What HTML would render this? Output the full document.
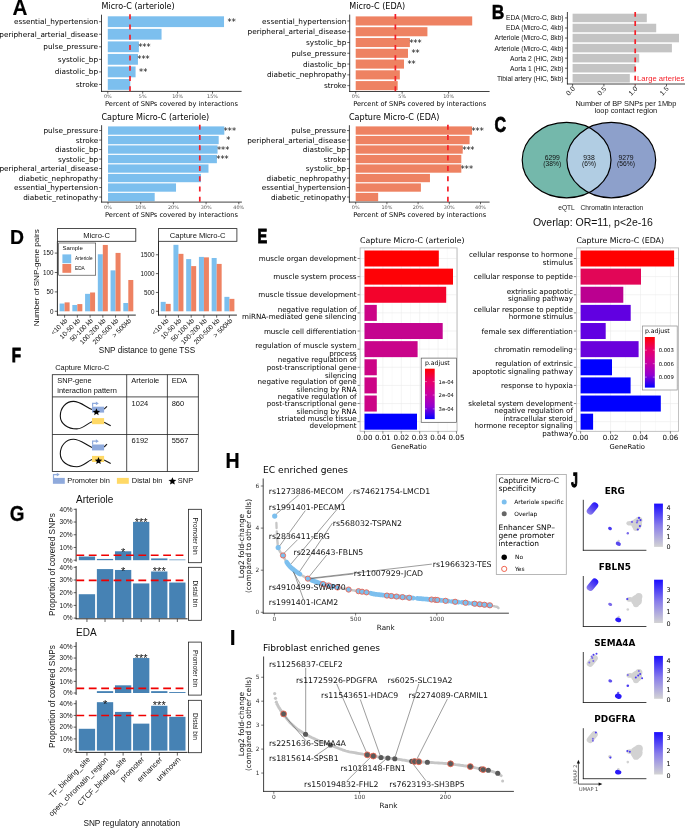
<!DOCTYPE html>
<html><head><meta charset="utf-8"><title>Figure</title>
<style>html,body{margin:0;padding:0;background:#fff}svg{display:block;will-change:transform}</style></head>
<body>
<svg width="685" height="828" viewBox="0 0 685 828">
<rect width="685" height="828" fill="#fff"/>
<text x="101.50" y="9.40" font-size="8.05" font-family="DejaVu Sans, Liberation Sans, sans-serif" text-anchor="start" fill="#000">Micro-C (arteriole)</text>
<rect x="107.80" y="16.30" width="116.22" height="10.80" fill="#7cbfee"/>
<text x="98.10" y="24.25" font-size="7.3" font-family="DejaVu Sans, Liberation Sans, sans-serif" text-anchor="end" fill="#000">essential_hypertension</text>
<line x1="99.10" y1="21.70" x2="101.50" y2="21.70" stroke="#222" stroke-width="0.7"/>
<text x="235.72" y="24.80" font-size="8.2" font-family="DejaVu Sans, Liberation Sans, sans-serif" text-anchor="end" fill="#111">**</text>
<rect x="107.80" y="28.85" width="53.75" height="10.80" fill="#7cbfee"/>
<text x="98.10" y="36.80" font-size="7.3" font-family="DejaVu Sans, Liberation Sans, sans-serif" text-anchor="end" fill="#000">peripheral_arterial_disease</text>
<line x1="99.10" y1="34.25" x2="101.50" y2="34.25" stroke="#222" stroke-width="0.7"/>
<rect x="107.80" y="41.40" width="31.06" height="10.80" fill="#7cbfee"/>
<text x="98.10" y="49.35" font-size="7.3" font-family="DejaVu Sans, Liberation Sans, sans-serif" text-anchor="end" fill="#000">pulse_pressure</text>
<line x1="99.10" y1="46.80" x2="101.50" y2="46.80" stroke="#222" stroke-width="0.7"/>
<text x="150.56" y="49.90" font-size="8.2" font-family="DejaVu Sans, Liberation Sans, sans-serif" text-anchor="end" fill="#111">***</text>
<rect x="107.80" y="53.95" width="30.15" height="10.80" fill="#7cbfee"/>
<text x="98.10" y="61.90" font-size="7.3" font-family="DejaVu Sans, Liberation Sans, sans-serif" text-anchor="end" fill="#000">systolic_bp</text>
<line x1="99.10" y1="59.35" x2="101.50" y2="59.35" stroke="#222" stroke-width="0.7"/>
<text x="149.65" y="62.45" font-size="8.2" font-family="DejaVu Sans, Liberation Sans, sans-serif" text-anchor="end" fill="#111">***</text>
<rect x="107.80" y="66.50" width="27.78" height="10.80" fill="#7cbfee"/>
<text x="98.10" y="74.45" font-size="7.3" font-family="DejaVu Sans, Liberation Sans, sans-serif" text-anchor="end" fill="#000">diastolic_bp</text>
<line x1="99.10" y1="71.90" x2="101.50" y2="71.90" stroke="#222" stroke-width="0.7"/>
<text x="147.28" y="75.00" font-size="8.2" font-family="DejaVu Sans, Liberation Sans, sans-serif" text-anchor="end" fill="#111">**</text>
<rect x="107.80" y="79.05" width="22.48" height="10.80" fill="#7cbfee"/>
<text x="98.10" y="87.00" font-size="7.3" font-family="DejaVu Sans, Liberation Sans, sans-serif" text-anchor="end" fill="#000">stroke</text>
<line x1="99.10" y1="84.45" x2="101.50" y2="84.45" stroke="#222" stroke-width="0.7"/>
<line x1="101.50" y1="14.70" x2="101.50" y2="91.80" stroke="#111" stroke-width="0.8"/>
<line x1="101.10" y1="91.40" x2="241.60" y2="91.40" stroke="#111" stroke-width="0.8"/>
<line x1="107.80" y1="91.40" x2="107.80" y2="93.60" stroke="#222" stroke-width="0.7"/>
<text x="107.80" y="98.40" font-size="4.9" font-family="DejaVu Sans, Liberation Sans, sans-serif" text-anchor="middle" fill="#555">0%</text>
<line x1="142.70" y1="91.40" x2="142.70" y2="93.60" stroke="#222" stroke-width="0.7"/>
<text x="142.70" y="98.40" font-size="4.9" font-family="DejaVu Sans, Liberation Sans, sans-serif" text-anchor="middle" fill="#555">5%</text>
<line x1="177.60" y1="91.40" x2="177.60" y2="93.60" stroke="#222" stroke-width="0.7"/>
<text x="177.60" y="98.40" font-size="4.9" font-family="DejaVu Sans, Liberation Sans, sans-serif" text-anchor="middle" fill="#555">10%</text>
<line x1="212.50" y1="91.40" x2="212.50" y2="93.60" stroke="#222" stroke-width="0.7"/>
<text x="212.50" y="98.40" font-size="4.9" font-family="DejaVu Sans, Liberation Sans, sans-serif" text-anchor="middle" fill="#555">15%</text>
<line x1="130.00" y1="14.20" x2="130.00" y2="91.40" stroke="#f51f28" stroke-width="1.7" stroke-dasharray="5 5.3"/>
<text x="171.50" y="106.00" font-size="6.67" font-family="DejaVu Sans, Liberation Sans, sans-serif" text-anchor="middle" fill="#000">Percent of SNPs covered by interactions</text>
<text x="349.30" y="9.40" font-size="8.05" font-family="DejaVu Sans, Liberation Sans, sans-serif" text-anchor="start" fill="#000">Micro-C (EDA)</text>
<rect x="355.70" y="16.40" width="116.50" height="9.10" fill="#ee8262"/>
<text x="346.30" y="23.50" font-size="7.3" font-family="DejaVu Sans, Liberation Sans, sans-serif" text-anchor="end" fill="#000">essential_hypertension</text>
<line x1="347.30" y1="20.95" x2="349.70" y2="20.95" stroke="#222" stroke-width="0.7"/>
<rect x="355.70" y="27.18" width="71.72" height="9.10" fill="#ee8262"/>
<text x="346.30" y="34.28" font-size="7.3" font-family="DejaVu Sans, Liberation Sans, sans-serif" text-anchor="end" fill="#000">peripheral_arterial_disease</text>
<line x1="347.30" y1="31.73" x2="349.70" y2="31.73" stroke="#222" stroke-width="0.7"/>
<rect x="355.70" y="37.96" width="54.16" height="9.10" fill="#ee8262"/>
<text x="346.30" y="45.06" font-size="7.3" font-family="DejaVu Sans, Liberation Sans, sans-serif" text-anchor="end" fill="#000">systolic_bp</text>
<line x1="347.30" y1="42.51" x2="349.70" y2="42.51" stroke="#222" stroke-width="0.7"/>
<text x="421.56" y="45.61" font-size="8.2" font-family="DejaVu Sans, Liberation Sans, sans-serif" text-anchor="end" fill="#111">***</text>
<rect x="355.70" y="48.74" width="52.30" height="9.10" fill="#ee8262"/>
<text x="346.30" y="55.84" font-size="7.3" font-family="DejaVu Sans, Liberation Sans, sans-serif" text-anchor="end" fill="#000">pulse_pressure</text>
<line x1="347.30" y1="53.29" x2="349.70" y2="53.29" stroke="#222" stroke-width="0.7"/>
<text x="419.70" y="56.39" font-size="8.2" font-family="DejaVu Sans, Liberation Sans, sans-serif" text-anchor="end" fill="#111">**</text>
<rect x="355.70" y="59.52" width="48.31" height="9.10" fill="#ee8262"/>
<text x="346.30" y="66.62" font-size="7.3" font-family="DejaVu Sans, Liberation Sans, sans-serif" text-anchor="end" fill="#000">diastolic_bp</text>
<line x1="347.30" y1="64.07" x2="349.70" y2="64.07" stroke="#222" stroke-width="0.7"/>
<text x="415.71" y="67.17" font-size="8.2" font-family="DejaVu Sans, Liberation Sans, sans-serif" text-anchor="end" fill="#111">**</text>
<rect x="355.70" y="70.30" width="44.13" height="9.10" fill="#ee8262"/>
<text x="346.30" y="77.40" font-size="7.3" font-family="DejaVu Sans, Liberation Sans, sans-serif" text-anchor="end" fill="#000">diabetic_nephropathy</text>
<line x1="347.30" y1="74.85" x2="349.70" y2="74.85" stroke="#222" stroke-width="0.7"/>
<rect x="355.70" y="81.08" width="41.99" height="9.10" fill="#ee8262"/>
<text x="346.30" y="88.18" font-size="7.3" font-family="DejaVu Sans, Liberation Sans, sans-serif" text-anchor="end" fill="#000">stroke</text>
<line x1="347.30" y1="85.63" x2="349.70" y2="85.63" stroke="#222" stroke-width="0.7"/>
<line x1="349.70" y1="14.60" x2="349.70" y2="91.90" stroke="#111" stroke-width="0.8"/>
<line x1="349.30" y1="91.50" x2="489.60" y2="91.50" stroke="#111" stroke-width="0.8"/>
<line x1="355.70" y1="91.50" x2="355.70" y2="93.70" stroke="#222" stroke-width="0.7"/>
<text x="355.70" y="98.40" font-size="4.9" font-family="DejaVu Sans, Liberation Sans, sans-serif" text-anchor="middle" fill="#555">0%</text>
<line x1="402.15" y1="91.50" x2="402.15" y2="93.70" stroke="#222" stroke-width="0.7"/>
<text x="402.15" y="98.40" font-size="4.9" font-family="DejaVu Sans, Liberation Sans, sans-serif" text-anchor="middle" fill="#555">5%</text>
<line x1="448.60" y1="91.50" x2="448.60" y2="93.70" stroke="#222" stroke-width="0.7"/>
<text x="448.60" y="98.40" font-size="4.9" font-family="DejaVu Sans, Liberation Sans, sans-serif" text-anchor="middle" fill="#555">10%</text>
<line x1="395.37" y1="14.10" x2="395.37" y2="91.50" stroke="#f51f28" stroke-width="1.7" stroke-dasharray="5 5.3"/>
<text x="419.70" y="106.00" font-size="6.67" font-family="DejaVu Sans, Liberation Sans, sans-serif" text-anchor="middle" fill="#000">Percent of SNPs covered by interactions</text>
<text x="101.50" y="120.30" font-size="8.05" font-family="DejaVu Sans, Liberation Sans, sans-serif" text-anchor="start" fill="#000">Capture Micro-C (arteriole)</text>
<rect x="108.00" y="126.40" width="116.31" height="8.30" fill="#7cbfee"/>
<text x="98.20" y="133.10" font-size="7.3" font-family="DejaVu Sans, Liberation Sans, sans-serif" text-anchor="end" fill="#000">pulse_pressure</text>
<line x1="99.20" y1="130.55" x2="101.60" y2="130.55" stroke="#222" stroke-width="0.7"/>
<text x="236.01" y="133.65" font-size="8.2" font-family="DejaVu Sans, Liberation Sans, sans-serif" text-anchor="end" fill="#111">***</text>
<rect x="108.00" y="135.90" width="110.69" height="8.30" fill="#7cbfee"/>
<text x="98.20" y="142.60" font-size="7.3" font-family="DejaVu Sans, Liberation Sans, sans-serif" text-anchor="end" fill="#000">stroke</text>
<line x1="99.20" y1="140.05" x2="101.60" y2="140.05" stroke="#222" stroke-width="0.7"/>
<text x="230.39" y="143.15" font-size="8.2" font-family="DejaVu Sans, Liberation Sans, sans-serif" text-anchor="end" fill="#111">*</text>
<rect x="108.00" y="145.40" width="109.55" height="8.30" fill="#7cbfee"/>
<text x="98.20" y="152.10" font-size="7.3" font-family="DejaVu Sans, Liberation Sans, sans-serif" text-anchor="end" fill="#000">diastolic_bp</text>
<line x1="99.20" y1="149.55" x2="101.60" y2="149.55" stroke="#222" stroke-width="0.7"/>
<text x="229.25" y="152.65" font-size="8.2" font-family="DejaVu Sans, Liberation Sans, sans-serif" text-anchor="end" fill="#111">***</text>
<rect x="108.00" y="154.90" width="108.89" height="8.30" fill="#7cbfee"/>
<text x="98.20" y="161.60" font-size="7.3" font-family="DejaVu Sans, Liberation Sans, sans-serif" text-anchor="end" fill="#000">systolic_bp</text>
<line x1="99.20" y1="159.05" x2="101.60" y2="159.05" stroke="#222" stroke-width="0.7"/>
<text x="228.59" y="162.15" font-size="8.2" font-family="DejaVu Sans, Liberation Sans, sans-serif" text-anchor="end" fill="#111">***</text>
<rect x="108.00" y="164.40" width="100.49" height="8.30" fill="#7cbfee"/>
<text x="98.20" y="171.10" font-size="7.3" font-family="DejaVu Sans, Liberation Sans, sans-serif" text-anchor="end" fill="#000">peripheral_arterial_disease</text>
<line x1="99.20" y1="168.55" x2="101.60" y2="168.55" stroke="#222" stroke-width="0.7"/>
<rect x="108.00" y="173.90" width="93.00" height="8.30" fill="#7cbfee"/>
<text x="98.20" y="180.60" font-size="7.3" font-family="DejaVu Sans, Liberation Sans, sans-serif" text-anchor="end" fill="#000">diabetic_nephropathy</text>
<line x1="99.20" y1="178.05" x2="101.60" y2="178.05" stroke="#222" stroke-width="0.7"/>
<rect x="108.00" y="183.40" width="68.02" height="8.30" fill="#7cbfee"/>
<text x="98.20" y="190.10" font-size="7.3" font-family="DejaVu Sans, Liberation Sans, sans-serif" text-anchor="end" fill="#000">essential_hypertension</text>
<line x1="99.20" y1="187.55" x2="101.60" y2="187.55" stroke="#222" stroke-width="0.7"/>
<rect x="108.00" y="192.90" width="46.70" height="8.30" fill="#7cbfee"/>
<text x="98.20" y="199.60" font-size="7.3" font-family="DejaVu Sans, Liberation Sans, sans-serif" text-anchor="end" fill="#000">diabetic_retinopathy</text>
<line x1="99.20" y1="197.05" x2="101.60" y2="197.05" stroke="#222" stroke-width="0.7"/>
<line x1="101.60" y1="125.20" x2="101.60" y2="202.50" stroke="#111" stroke-width="0.8"/>
<line x1="101.20" y1="202.10" x2="241.90" y2="202.10" stroke="#111" stroke-width="0.8"/>
<line x1="108.00" y1="202.10" x2="108.00" y2="204.30" stroke="#222" stroke-width="0.7"/>
<text x="108.00" y="209.30" font-size="4.9" font-family="DejaVu Sans, Liberation Sans, sans-serif" text-anchor="middle" fill="#555">0%</text>
<line x1="140.70" y1="202.10" x2="140.70" y2="204.30" stroke="#222" stroke-width="0.7"/>
<text x="140.70" y="209.30" font-size="4.9" font-family="DejaVu Sans, Liberation Sans, sans-serif" text-anchor="middle" fill="#555">10%</text>
<line x1="173.40" y1="202.10" x2="173.40" y2="204.30" stroke="#222" stroke-width="0.7"/>
<text x="173.40" y="209.30" font-size="4.9" font-family="DejaVu Sans, Liberation Sans, sans-serif" text-anchor="middle" fill="#555">20%</text>
<line x1="206.10" y1="202.10" x2="206.10" y2="204.30" stroke="#222" stroke-width="0.7"/>
<text x="206.10" y="209.30" font-size="4.9" font-family="DejaVu Sans, Liberation Sans, sans-serif" text-anchor="middle" fill="#555">30%</text>
<line x1="238.80" y1="202.10" x2="238.80" y2="204.30" stroke="#222" stroke-width="0.7"/>
<text x="238.80" y="209.30" font-size="4.9" font-family="DejaVu Sans, Liberation Sans, sans-serif" text-anchor="middle" fill="#555">40%</text>
<line x1="199.79" y1="124.70" x2="199.79" y2="202.10" stroke="#f51f28" stroke-width="1.7" stroke-dasharray="5 5.3"/>
<text x="171.50" y="216.90" font-size="6.67" font-family="DejaVu Sans, Liberation Sans, sans-serif" text-anchor="middle" fill="#000">Percent of SNPs covered by interactions</text>
<text x="349.00" y="120.30" font-size="8.05" font-family="DejaVu Sans, Liberation Sans, sans-serif" text-anchor="start" fill="#000">Capture Micro-C (EDA)</text>
<rect x="355.70" y="126.40" width="116.38" height="8.30" fill="#ee8262"/>
<text x="346.00" y="133.10" font-size="7.3" font-family="DejaVu Sans, Liberation Sans, sans-serif" text-anchor="end" fill="#000">pulse_pressure</text>
<line x1="347.00" y1="130.55" x2="349.40" y2="130.55" stroke="#222" stroke-width="0.7"/>
<text x="483.78" y="133.65" font-size="8.2" font-family="DejaVu Sans, Liberation Sans, sans-serif" text-anchor="end" fill="#111">***</text>
<rect x="355.70" y="135.90" width="113.88" height="8.30" fill="#ee8262"/>
<text x="346.00" y="142.60" font-size="7.3" font-family="DejaVu Sans, Liberation Sans, sans-serif" text-anchor="end" fill="#000">peripheral_arterial_disease</text>
<line x1="347.00" y1="140.05" x2="349.40" y2="140.05" stroke="#222" stroke-width="0.7"/>
<rect x="355.70" y="145.40" width="107.02" height="8.30" fill="#ee8262"/>
<text x="346.00" y="152.10" font-size="7.3" font-family="DejaVu Sans, Liberation Sans, sans-serif" text-anchor="end" fill="#000">diastolic_bp</text>
<line x1="347.00" y1="149.55" x2="349.40" y2="149.55" stroke="#222" stroke-width="0.7"/>
<text x="474.42" y="152.65" font-size="8.2" font-family="DejaVu Sans, Liberation Sans, sans-serif" text-anchor="end" fill="#111">***</text>
<rect x="355.70" y="154.90" width="105.61" height="8.30" fill="#ee8262"/>
<text x="346.00" y="161.60" font-size="7.3" font-family="DejaVu Sans, Liberation Sans, sans-serif" text-anchor="end" fill="#000">stroke</text>
<line x1="347.00" y1="159.05" x2="349.40" y2="159.05" stroke="#222" stroke-width="0.7"/>
<rect x="355.70" y="164.40" width="105.61" height="8.30" fill="#ee8262"/>
<text x="346.00" y="171.10" font-size="7.3" font-family="DejaVu Sans, Liberation Sans, sans-serif" text-anchor="end" fill="#000">systolic_bp</text>
<line x1="347.00" y1="168.55" x2="349.40" y2="168.55" stroke="#222" stroke-width="0.7"/>
<text x="473.01" y="171.65" font-size="8.2" font-family="DejaVu Sans, Liberation Sans, sans-serif" text-anchor="end" fill="#111">***</text>
<rect x="355.70" y="173.90" width="74.26" height="8.30" fill="#ee8262"/>
<text x="346.00" y="180.60" font-size="7.3" font-family="DejaVu Sans, Liberation Sans, sans-serif" text-anchor="end" fill="#000">diabetic_nephropathy</text>
<line x1="347.00" y1="178.05" x2="349.40" y2="178.05" stroke="#222" stroke-width="0.7"/>
<rect x="355.70" y="183.40" width="65.21" height="8.30" fill="#ee8262"/>
<text x="346.00" y="190.10" font-size="7.3" font-family="DejaVu Sans, Liberation Sans, sans-serif" text-anchor="end" fill="#000">essential_hypertension</text>
<line x1="347.00" y1="187.55" x2="349.40" y2="187.55" stroke="#222" stroke-width="0.7"/>
<rect x="355.70" y="192.90" width="22.46" height="8.30" fill="#ee8262"/>
<text x="346.00" y="199.60" font-size="7.3" font-family="DejaVu Sans, Liberation Sans, sans-serif" text-anchor="end" fill="#000">diabetic_retinopathy</text>
<line x1="347.00" y1="197.05" x2="349.40" y2="197.05" stroke="#222" stroke-width="0.7"/>
<line x1="349.40" y1="125.20" x2="349.40" y2="202.50" stroke="#111" stroke-width="0.8"/>
<line x1="349.00" y1="202.10" x2="489.60" y2="202.10" stroke="#111" stroke-width="0.8"/>
<line x1="355.70" y1="202.10" x2="355.70" y2="204.30" stroke="#222" stroke-width="0.7"/>
<text x="355.70" y="209.30" font-size="4.9" font-family="DejaVu Sans, Liberation Sans, sans-serif" text-anchor="middle" fill="#555">0%</text>
<line x1="386.90" y1="202.10" x2="386.90" y2="204.30" stroke="#222" stroke-width="0.7"/>
<text x="386.90" y="209.30" font-size="4.9" font-family="DejaVu Sans, Liberation Sans, sans-serif" text-anchor="middle" fill="#555">10%</text>
<line x1="418.10" y1="202.10" x2="418.10" y2="204.30" stroke="#222" stroke-width="0.7"/>
<text x="418.10" y="209.30" font-size="4.9" font-family="DejaVu Sans, Liberation Sans, sans-serif" text-anchor="middle" fill="#555">20%</text>
<line x1="449.30" y1="202.10" x2="449.30" y2="204.30" stroke="#222" stroke-width="0.7"/>
<text x="449.30" y="209.30" font-size="4.9" font-family="DejaVu Sans, Liberation Sans, sans-serif" text-anchor="middle" fill="#555">30%</text>
<line x1="480.50" y1="202.10" x2="480.50" y2="204.30" stroke="#222" stroke-width="0.7"/>
<text x="480.50" y="209.30" font-size="4.9" font-family="DejaVu Sans, Liberation Sans, sans-serif" text-anchor="middle" fill="#555">40%</text>
<line x1="447.90" y1="124.70" x2="447.90" y2="202.10" stroke="#f51f28" stroke-width="1.7" stroke-dasharray="5 5.3"/>
<text x="419.70" y="216.90" font-size="6.67" font-family="DejaVu Sans, Liberation Sans, sans-serif" text-anchor="middle" fill="#000">Percent of SNPs covered by interactions</text>
<text transform="translate(12.61 14.53) scale(1.036 1.081)" x="0" y="0" font-size="20" font-family="Liberation Sans, DejaVu Sans, sans-serif" font-weight="bold" fill="#000" stroke="#000" stroke-width="0.13" stroke-linejoin="miter" vector-effect="non-scaling-stroke">A</text>
<rect x="572.60" y="13.70" width="74.20" height="8.50" fill="#c4c4c4"/>
<text x="563.60" y="20.35" font-size="6.7" font-family="Liberation Sans, DejaVu Sans, sans-serif" text-anchor="end" fill="#111">EDA (Micro-C, 8kb)</text>
<line x1="565.00" y1="17.95" x2="567.40" y2="17.95" stroke="#222" stroke-width="0.7"/>
<rect x="572.60" y="23.75" width="83.60" height="8.50" fill="#c4c4c4"/>
<text x="563.60" y="30.40" font-size="6.7" font-family="Liberation Sans, DejaVu Sans, sans-serif" text-anchor="end" fill="#111">EDA (Micro-C, 4kb)</text>
<line x1="565.00" y1="28.00" x2="567.40" y2="28.00" stroke="#222" stroke-width="0.7"/>
<rect x="572.60" y="33.80" width="106.40" height="8.50" fill="#c4c4c4"/>
<text x="563.60" y="40.45" font-size="6.7" font-family="Liberation Sans, DejaVu Sans, sans-serif" text-anchor="end" fill="#111">Arteriole (Micro-C, 8kb)</text>
<line x1="565.00" y1="38.05" x2="567.40" y2="38.05" stroke="#222" stroke-width="0.7"/>
<rect x="572.60" y="43.85" width="99.30" height="8.50" fill="#c4c4c4"/>
<text x="563.60" y="50.50" font-size="6.7" font-family="Liberation Sans, DejaVu Sans, sans-serif" text-anchor="end" fill="#111">Arteriole (Micro-C, 4kb)</text>
<line x1="565.00" y1="48.10" x2="567.40" y2="48.10" stroke="#222" stroke-width="0.7"/>
<rect x="572.60" y="53.90" width="66.60" height="8.50" fill="#c4c4c4"/>
<text x="563.60" y="60.55" font-size="6.7" font-family="Liberation Sans, DejaVu Sans, sans-serif" text-anchor="end" fill="#111">Aorta 2 (HiC, 2kb)</text>
<line x1="565.00" y1="58.15" x2="567.40" y2="58.15" stroke="#222" stroke-width="0.7"/>
<rect x="572.60" y="63.95" width="62.90" height="8.50" fill="#c4c4c4"/>
<text x="563.60" y="70.60" font-size="6.7" font-family="Liberation Sans, DejaVu Sans, sans-serif" text-anchor="end" fill="#111">Aorta 1 (HiC, 2kb)</text>
<line x1="565.00" y1="68.20" x2="567.40" y2="68.20" stroke="#222" stroke-width="0.7"/>
<rect x="572.60" y="74.00" width="57.20" height="8.50" fill="#c4c4c4"/>
<text x="563.60" y="80.65" font-size="6.7" font-family="Liberation Sans, DejaVu Sans, sans-serif" text-anchor="end" fill="#111">Tibial artery (HiC, 5kb)</text>
<line x1="565.00" y1="78.25" x2="567.40" y2="78.25" stroke="#222" stroke-width="0.7"/>
<line x1="567.40" y1="12.00" x2="567.40" y2="84.40" stroke="#111" stroke-width="0.8"/>
<line x1="567.00" y1="84.00" x2="685.00" y2="84.00" stroke="#111" stroke-width="0.8"/>
<line x1="572.60" y1="84.00" x2="572.60" y2="86.40" stroke="#222" stroke-width="0.7"/>
<text x="575.40" y="89.20" font-size="6.8" font-family="Liberation Sans, DejaVu Sans, sans-serif" text-anchor="end" fill="#222" transform="rotate(-45 575.40 89.20)">0.0</text>
<line x1="603.90" y1="84.00" x2="603.90" y2="86.40" stroke="#222" stroke-width="0.7"/>
<text x="606.70" y="89.20" font-size="6.8" font-family="Liberation Sans, DejaVu Sans, sans-serif" text-anchor="end" fill="#222" transform="rotate(-45 606.70 89.20)">0.5</text>
<line x1="635.20" y1="84.00" x2="635.20" y2="86.40" stroke="#222" stroke-width="0.7"/>
<text x="638.00" y="89.20" font-size="6.8" font-family="Liberation Sans, DejaVu Sans, sans-serif" text-anchor="end" fill="#222" transform="rotate(-45 638.00 89.20)">1.0</text>
<line x1="666.50" y1="84.00" x2="666.50" y2="86.40" stroke="#222" stroke-width="0.7"/>
<text x="669.30" y="89.20" font-size="6.8" font-family="Liberation Sans, DejaVu Sans, sans-serif" text-anchor="end" fill="#222" transform="rotate(-45 669.30 89.20)">1.5</text>
<line x1="635.20" y1="12.00" x2="635.20" y2="85.00" stroke="#f51f28" stroke-width="1.7" stroke-dasharray="4.8 4.3"/>
<text x="637.10" y="80.80" font-size="7.65" font-family="Liberation Sans, DejaVu Sans, sans-serif" text-anchor="start" fill="#f51f28">Large arteries</text>
<text x="625.90" y="105.60" font-size="7.43" font-family="Liberation Sans, DejaVu Sans, sans-serif" text-anchor="middle" fill="#111">Number of BP SNPs per 1Mbp</text>
<text x="625.90" y="113.00" font-size="7.43" font-family="Liberation Sans, DejaVu Sans, sans-serif" text-anchor="middle" fill="#111">loop contact region</text>
<text transform="translate(491.68 19.05) scale(0.869 1.025)" x="0" y="0" font-size="20" font-family="Liberation Sans, DejaVu Sans, sans-serif" font-weight="bold" fill="#000" stroke="#000" stroke-width="0.5" stroke-linejoin="miter" vector-effect="non-scaling-stroke">B</text>
<ellipse cx="566.6" cy="160.1" rx="44.4" ry="37.7" fill="#74b8ab"/>
<ellipse cx="611.3" cy="160.1" rx="44.4" ry="37.7" fill="#8da0cb"/>
<clipPath id="vc"><ellipse cx="566.6" cy="160.1" rx="44.4" ry="37.7"/></clipPath>
<ellipse cx="611.3" cy="160.1" rx="44.4" ry="37.7" fill="#b1cde3" clip-path="url(#vc)"/>
<ellipse cx="566.6" cy="160.1" rx="44.4" ry="37.7" fill="none" stroke="#000" stroke-width="1.15"/>
<ellipse cx="611.3" cy="160.1" rx="44.4" ry="37.7" fill="none" stroke="#000" stroke-width="1.15"/>
<text x="552.20" y="160.30" font-size="6.8" font-family="Liberation Sans, DejaVu Sans, sans-serif" text-anchor="middle" fill="#111">6299</text>
<text x="552.20" y="166.40" font-size="6.7" font-family="Liberation Sans, DejaVu Sans, sans-serif" text-anchor="middle" fill="#111">(38%)</text>
<text x="589.00" y="160.30" font-size="6.8" font-family="Liberation Sans, DejaVu Sans, sans-serif" text-anchor="middle" fill="#111">938</text>
<text x="589.00" y="166.40" font-size="6.7" font-family="Liberation Sans, DejaVu Sans, sans-serif" text-anchor="middle" fill="#111">(6%)</text>
<text x="626.00" y="160.30" font-size="6.8" font-family="Liberation Sans, DejaVu Sans, sans-serif" text-anchor="middle" fill="#111">9279</text>
<text x="626.00" y="166.40" font-size="6.7" font-family="Liberation Sans, DejaVu Sans, sans-serif" text-anchor="middle" fill="#111">(56%)</text>
<text x="558.30" y="210.40" font-size="6.6" font-family="Liberation Sans, DejaVu Sans, sans-serif" text-anchor="start" fill="#222">eQTL</text>
<text x="580.60" y="210.40" font-size="6.6" font-family="Liberation Sans, DejaVu Sans, sans-serif" text-anchor="start" fill="#222">Chromatin interaction</text>
<text x="592.90" y="225.60" font-size="10.5" font-family="Liberation Sans, DejaVu Sans, sans-serif" text-anchor="middle" fill="#111">Overlap: OR=11, p&lt;2e-16</text>
<text transform="translate(494.61 131.73) scale(0.802 1.074)" x="0" y="0" font-size="20" font-family="Liberation Sans, DejaVu Sans, sans-serif" font-weight="bold" fill="#000" stroke="#000" stroke-width="0.7" stroke-linejoin="miter" vector-effect="non-scaling-stroke">C</text>
<rect x="57.40" y="228.60" width="78.40" height="12.70" fill="#fff" stroke="#222" stroke-width="0.8"/>
<text x="96.60" y="237.50" font-size="7.6" font-family="Liberation Sans, DejaVu Sans, sans-serif" text-anchor="middle" fill="#111">Micro-C</text>
<rect x="59.60" y="303.54" width="5.00" height="7.76" fill="#7cbfee"/>
<rect x="64.60" y="302.38" width="5.00" height="8.92" fill="#ee8262"/>
<rect x="72.34" y="304.98" width="5.00" height="6.32" fill="#7cbfee"/>
<rect x="77.34" y="304.08" width="5.00" height="7.22" fill="#ee8262"/>
<rect x="85.08" y="293.84" width="5.00" height="17.46" fill="#7cbfee"/>
<rect x="90.08" y="292.48" width="5.00" height="18.82" fill="#ee8262"/>
<rect x="97.82" y="254.26" width="5.00" height="57.04" fill="#7cbfee"/>
<rect x="102.82" y="244.95" width="5.00" height="66.35" fill="#ee8262"/>
<rect x="110.56" y="270.37" width="5.00" height="40.93" fill="#7cbfee"/>
<rect x="115.56" y="252.91" width="5.00" height="58.39" fill="#ee8262"/>
<rect x="123.30" y="303.00" width="5.00" height="8.30" fill="#7cbfee"/>
<rect x="128.30" y="279.99" width="5.00" height="31.31" fill="#ee8262"/>
<line x1="57.40" y1="241.30" x2="57.40" y2="315.50" stroke="#111" stroke-width="0.9"/>
<line x1="57.00" y1="315.10" x2="135.80" y2="315.10" stroke="#111" stroke-width="0.9"/>
<line x1="54.80" y1="311.30" x2="57.40" y2="311.30" stroke="#222" stroke-width="0.7"/>
<text x="53.40" y="313.60" font-size="6.3" font-family="Liberation Sans, DejaVu Sans, sans-serif" text-anchor="end" fill="#111">0</text>
<line x1="54.80" y1="291.90" x2="57.40" y2="291.90" stroke="#222" stroke-width="0.7"/>
<text x="53.40" y="294.20" font-size="6.3" font-family="Liberation Sans, DejaVu Sans, sans-serif" text-anchor="end" fill="#111">50</text>
<line x1="54.80" y1="272.50" x2="57.40" y2="272.50" stroke="#222" stroke-width="0.7"/>
<text x="53.40" y="274.80" font-size="6.3" font-family="Liberation Sans, DejaVu Sans, sans-serif" text-anchor="end" fill="#111">100</text>
<line x1="54.80" y1="253.10" x2="57.40" y2="253.10" stroke="#222" stroke-width="0.7"/>
<text x="53.40" y="255.40" font-size="6.3" font-family="Liberation Sans, DejaVu Sans, sans-serif" text-anchor="end" fill="#111">150</text>
<line x1="64.60" y1="315.10" x2="64.60" y2="317.70" stroke="#222" stroke-width="0.7"/>
<text x="68.00" y="321.00" font-size="6.7" font-family="Liberation Sans, DejaVu Sans, sans-serif" text-anchor="end" fill="#111" transform="rotate(-45 68.00 321.00)">&lt;10 kb</text>
<line x1="77.34" y1="315.10" x2="77.34" y2="317.70" stroke="#222" stroke-width="0.7"/>
<text x="80.74" y="321.00" font-size="6.7" font-family="Liberation Sans, DejaVu Sans, sans-serif" text-anchor="end" fill="#111" transform="rotate(-45 80.74 321.00)">10-50 kb</text>
<line x1="90.08" y1="315.10" x2="90.08" y2="317.70" stroke="#222" stroke-width="0.7"/>
<text x="93.48" y="321.00" font-size="6.7" font-family="Liberation Sans, DejaVu Sans, sans-serif" text-anchor="end" fill="#111" transform="rotate(-45 93.48 321.00)">50-100 kb</text>
<line x1="102.82" y1="315.10" x2="102.82" y2="317.70" stroke="#222" stroke-width="0.7"/>
<text x="106.22" y="321.00" font-size="6.7" font-family="Liberation Sans, DejaVu Sans, sans-serif" text-anchor="end" fill="#111" transform="rotate(-45 106.22 321.00)">100-200 kb</text>
<line x1="115.56" y1="315.10" x2="115.56" y2="317.70" stroke="#222" stroke-width="0.7"/>
<text x="118.96" y="321.00" font-size="6.7" font-family="Liberation Sans, DejaVu Sans, sans-serif" text-anchor="end" fill="#111" transform="rotate(-45 118.96 321.00)">200-500 kb</text>
<line x1="128.30" y1="315.10" x2="128.30" y2="317.70" stroke="#222" stroke-width="0.7"/>
<text x="131.70" y="321.00" font-size="6.7" font-family="Liberation Sans, DejaVu Sans, sans-serif" text-anchor="end" fill="#111" transform="rotate(-45 131.70 321.00)">&gt; 500kb</text>
<rect x="158.50" y="228.60" width="78.40" height="12.70" fill="#fff" stroke="#222" stroke-width="0.8"/>
<text x="197.70" y="237.50" font-size="7.6" font-family="Liberation Sans, DejaVu Sans, sans-serif" text-anchor="middle" fill="#111">Capture Micro-C</text>
<rect x="160.70" y="301.88" width="5.00" height="9.42" fill="#7cbfee"/>
<rect x="165.70" y="303.87" width="5.00" height="7.43" fill="#ee8262"/>
<rect x="173.44" y="244.83" width="5.00" height="66.47" fill="#7cbfee"/>
<rect x="178.44" y="253.85" width="5.00" height="57.45" fill="#ee8262"/>
<rect x="186.18" y="259.09" width="5.00" height="52.21" fill="#7cbfee"/>
<rect x="191.18" y="266.10" width="5.00" height="45.20" fill="#ee8262"/>
<rect x="198.92" y="256.90" width="5.00" height="54.40" fill="#7cbfee"/>
<rect x="203.92" y="257.35" width="5.00" height="53.95" fill="#ee8262"/>
<rect x="211.66" y="257.99" width="5.00" height="53.31" fill="#7cbfee"/>
<rect x="216.66" y="263.91" width="5.00" height="47.39" fill="#ee8262"/>
<rect x="224.40" y="296.86" width="5.00" height="14.44" fill="#7cbfee"/>
<rect x="229.40" y="298.86" width="5.00" height="12.44" fill="#ee8262"/>
<line x1="158.50" y1="241.30" x2="158.50" y2="315.50" stroke="#111" stroke-width="0.9"/>
<line x1="158.10" y1="315.10" x2="236.90" y2="315.10" stroke="#111" stroke-width="0.9"/>
<line x1="155.90" y1="311.30" x2="158.50" y2="311.30" stroke="#222" stroke-width="0.7"/>
<text x="154.50" y="313.60" font-size="6.3" font-family="Liberation Sans, DejaVu Sans, sans-serif" text-anchor="end" fill="#111">0</text>
<line x1="155.90" y1="292.45" x2="158.50" y2="292.45" stroke="#222" stroke-width="0.7"/>
<text x="154.50" y="294.75" font-size="6.3" font-family="Liberation Sans, DejaVu Sans, sans-serif" text-anchor="end" fill="#111">500</text>
<line x1="155.90" y1="273.60" x2="158.50" y2="273.60" stroke="#222" stroke-width="0.7"/>
<text x="154.50" y="275.90" font-size="6.3" font-family="Liberation Sans, DejaVu Sans, sans-serif" text-anchor="end" fill="#111">1000</text>
<line x1="155.90" y1="254.75" x2="158.50" y2="254.75" stroke="#222" stroke-width="0.7"/>
<text x="154.50" y="257.05" font-size="6.3" font-family="Liberation Sans, DejaVu Sans, sans-serif" text-anchor="end" fill="#111">1500</text>
<line x1="165.70" y1="315.10" x2="165.70" y2="317.70" stroke="#222" stroke-width="0.7"/>
<text x="169.10" y="321.00" font-size="6.7" font-family="Liberation Sans, DejaVu Sans, sans-serif" text-anchor="end" fill="#111" transform="rotate(-45 169.10 321.00)">&lt;10 kb</text>
<line x1="178.44" y1="315.10" x2="178.44" y2="317.70" stroke="#222" stroke-width="0.7"/>
<text x="181.84" y="321.00" font-size="6.7" font-family="Liberation Sans, DejaVu Sans, sans-serif" text-anchor="end" fill="#111" transform="rotate(-45 181.84 321.00)">10-50 kb</text>
<line x1="191.18" y1="315.10" x2="191.18" y2="317.70" stroke="#222" stroke-width="0.7"/>
<text x="194.58" y="321.00" font-size="6.7" font-family="Liberation Sans, DejaVu Sans, sans-serif" text-anchor="end" fill="#111" transform="rotate(-45 194.58 321.00)">50-100 kb</text>
<line x1="203.92" y1="315.10" x2="203.92" y2="317.70" stroke="#222" stroke-width="0.7"/>
<text x="207.32" y="321.00" font-size="6.7" font-family="Liberation Sans, DejaVu Sans, sans-serif" text-anchor="end" fill="#111" transform="rotate(-45 207.32 321.00)">100-200 kb</text>
<line x1="216.66" y1="315.10" x2="216.66" y2="317.70" stroke="#222" stroke-width="0.7"/>
<text x="220.06" y="321.00" font-size="6.7" font-family="Liberation Sans, DejaVu Sans, sans-serif" text-anchor="end" fill="#111" transform="rotate(-45 220.06 321.00)">200-500 kb</text>
<line x1="229.40" y1="315.10" x2="229.40" y2="317.70" stroke="#222" stroke-width="0.7"/>
<text x="232.80" y="321.00" font-size="6.7" font-family="Liberation Sans, DejaVu Sans, sans-serif" text-anchor="end" fill="#111" transform="rotate(-45 232.80 321.00)">&gt; 500kb</text>
<rect x="58.70" y="243.00" width="37.00" height="32.20" fill="#fff" stroke="#333" stroke-width="0.6"/>
<text x="62.40" y="249.80" font-size="6.0" font-family="Liberation Sans, DejaVu Sans, sans-serif" text-anchor="start" fill="#111">Sample</text>
<rect x="62.40" y="254.40" width="8.80" height="8.80" fill="#7cbfee"/>
<rect x="62.40" y="264.00" width="8.80" height="8.80" fill="#ee8262"/>
<text x="75.10" y="260.20" font-size="4.7" font-family="Liberation Sans, DejaVu Sans, sans-serif" text-anchor="start" fill="#111">Arteriole</text>
<text x="75.10" y="270.00" font-size="4.7" font-family="Liberation Sans, DejaVu Sans, sans-serif" text-anchor="start" fill="#111">EDA</text>
<text x="38.90" y="277.80" font-size="8.1" font-family="Liberation Sans, DejaVu Sans, sans-serif" text-anchor="middle" fill="#111" transform="rotate(-90 38.90 277.80)">Number of SNP-gene pairs</text>
<text x="147.00" y="353.40" font-size="8.15" font-family="Liberation Sans, DejaVu Sans, sans-serif" text-anchor="middle" fill="#111">SNP distance to gene TSS</text>
<text transform="translate(9.9 244.09) scale(0.97 1.024)" x="0" y="0" font-size="20" font-family="Liberation Sans, DejaVu Sans, sans-serif" font-weight="bold" fill="#000" stroke="#000" stroke-width="0.22" stroke-linejoin="miter" vector-effect="non-scaling-stroke">D</text>
<text x="55.20" y="369.50" font-size="7.4" font-family="Liberation Sans, DejaVu Sans, sans-serif" text-anchor="start" fill="#111">Capture Micro-C</text>
<rect x="52.30" y="374.70" width="146.00" height="96.80" fill="none" stroke="#222" stroke-width="0.8"/>
<line x1="52.30" y1="396.90" x2="198.30" y2="396.90" stroke="#222" stroke-width="0.8"/>
<line x1="52.30" y1="434.50" x2="198.30" y2="434.50" stroke="#222" stroke-width="0.8"/>
<line x1="126.70" y1="374.70" x2="126.70" y2="471.50" stroke="#222" stroke-width="0.8"/>
<line x1="167.40" y1="374.70" x2="167.40" y2="471.50" stroke="#222" stroke-width="0.8"/>
<text x="57.30" y="383.30" font-size="7.45" font-family="Liberation Sans, DejaVu Sans, sans-serif" text-anchor="start" fill="#111">SNP-gene</text>
<text x="57.30" y="392.50" font-size="7.45" font-family="Liberation Sans, DejaVu Sans, sans-serif" text-anchor="start" fill="#111">interaction pattern</text>
<text x="131.30" y="383.30" font-size="7.5" font-family="Liberation Sans, DejaVu Sans, sans-serif" text-anchor="start" fill="#111">Arteriole</text>
<text x="171.70" y="383.30" font-size="7.5" font-family="Liberation Sans, DejaVu Sans, sans-serif" text-anchor="start" fill="#111">EDA</text>
<text x="131.60" y="405.50" font-size="7.5" font-family="Liberation Sans, DejaVu Sans, sans-serif" text-anchor="start" fill="#111">1024</text>
<text x="171.70" y="405.50" font-size="7.5" font-family="Liberation Sans, DejaVu Sans, sans-serif" text-anchor="start" fill="#111">860</text>
<text x="131.60" y="443.20" font-size="7.5" font-family="Liberation Sans, DejaVu Sans, sans-serif" text-anchor="start" fill="#111">6192</text>
<text x="171.70" y="443.20" font-size="7.5" font-family="Liberation Sans, DejaVu Sans, sans-serif" text-anchor="start" fill="#111">5567</text>
<path d="M92 409.60 C85 406.50 80 401.40 73.4 401.40 C66 401.40 60.3 408.00 60.3 416.00 C60.3 424.00 68 428.90 76.9 428.90 C83 428.90 87 423.60 92 421.80" fill="none" stroke="#111" stroke-width="1.1"/>
<line x1="104.10" y1="422.30" x2="110.70" y2="425.70" stroke="#111" stroke-width="1.1"/>
<line x1="104.10" y1="409.20" x2="107.00" y2="406.30" stroke="#111" stroke-width="1.1"/>
<rect x="92.00" y="406.70" width="12.10" height="5.90" fill="#8faadc"/>
<path d="M92.60 406.70 V403.40 H96.20" fill="none" stroke="#8faadc" stroke-width="1.2"/>
<path d="M95.90 401.50 L98.80 403.40 L95.90 405.30 Z" fill="#8faadc"/>
<rect x="92.00" y="418.10" width="12.10" height="6.10" fill="#ffd966"/>
<polygon points="96.40,408.20 97.43,410.68 100.11,410.89 98.07,412.64 98.69,415.26 96.40,413.85 94.11,415.26 94.73,412.64 92.69,410.89 95.37,410.68" fill="#000"/>
<path d="M92 447.40 C85 444.30 80 439.20 73.4 439.20 C66 439.20 60.3 445.80 60.3 453.80 C60.3 461.80 68 466.70 76.9 466.70 C83 466.70 87 461.40 92 459.60" fill="none" stroke="#111" stroke-width="1.1"/>
<line x1="104.10" y1="460.10" x2="110.70" y2="463.50" stroke="#111" stroke-width="1.1"/>
<line x1="104.10" y1="447.00" x2="107.00" y2="444.10" stroke="#111" stroke-width="1.1"/>
<rect x="92.00" y="444.50" width="12.10" height="5.90" fill="#8faadc"/>
<path d="M92.60 444.50 V441.20 H96.20" fill="none" stroke="#8faadc" stroke-width="1.2"/>
<path d="M95.90 439.30 L98.80 441.20 L95.90 443.10 Z" fill="#8faadc"/>
<rect x="92.00" y="455.90" width="12.10" height="6.10" fill="#ffd966"/>
<polygon points="98.50,457.00 99.53,459.48 102.21,459.69 100.17,461.44 100.79,464.06 98.50,462.65 96.21,464.06 96.83,461.44 94.79,459.69 97.47,459.48" fill="#000"/>
<rect x="52.90" y="477.90" width="11.90" height="5.90" fill="#8faadc"/>
<path d="M53.50 477.90 V474.60 H57.10" fill="none" stroke="#8faadc" stroke-width="1.2"/>
<path d="M56.80 472.70 L59.70 474.60 L56.80 476.50 Z" fill="#8faadc"/>
<text x="67.20" y="483.30" font-size="7.45" font-family="Liberation Sans, DejaVu Sans, sans-serif" text-anchor="start" fill="#111">Promoter bin</text>
<rect x="116.90" y="477.90" width="11.90" height="5.90" fill="#ffd966"/>
<text x="131.80" y="483.30" font-size="7.45" font-family="Liberation Sans, DejaVu Sans, sans-serif" text-anchor="start" fill="#111">Distal bin</text>
<polygon points="172.40,477.20 173.48,479.81 176.30,480.03 174.15,481.87 174.81,484.62 172.40,483.15 169.99,484.62 170.65,481.87 168.50,480.03 171.32,479.81" fill="#000"/>
<text x="177.80" y="483.30" font-size="7.45" font-family="Liberation Sans, DejaVu Sans, sans-serif" text-anchor="start" fill="#111">SNP</text>
<text transform="translate(11.64 362.1) scale(0.756 1.025)" x="0" y="0" font-size="20" font-family="Liberation Sans, DejaVu Sans, sans-serif" font-weight="bold" fill="#000" stroke="#000" stroke-width="0.8" stroke-linejoin="miter" vector-effect="non-scaling-stroke">F</text>
<text x="76.00" y="502.90" font-size="10.0" font-family="Liberation Sans, DejaVu Sans, sans-serif" text-anchor="start" fill="#111">Arteriole</text>
<rect x="78.80" y="556.51" width="16.30" height="3.69" fill="#4682b4"/>
<rect x="96.88" y="558.93" width="16.30" height="1.27" fill="#4682b4"/>
<rect x="114.96" y="551.29" width="16.30" height="8.91" fill="#4682b4"/>
<rect x="133.04" y="521.90" width="16.30" height="38.30" fill="#4682b4"/>
<rect x="151.12" y="558.42" width="16.30" height="1.78" fill="#4682b4"/>
<rect x="169.20" y="559.56" width="16.30" height="0.64" fill="#4682b4"/>
<line x1="76.10" y1="508.60" x2="76.10" y2="561.50" stroke="#111" stroke-width="0.9"/>
<line x1="73.70" y1="560.20" x2="76.10" y2="560.20" stroke="#222" stroke-width="0.7"/>
<text x="72.60" y="562.50" font-size="6.5" font-family="Liberation Sans, DejaVu Sans, sans-serif" text-anchor="end" fill="#111">0%</text>
<line x1="73.70" y1="547.48" x2="76.10" y2="547.48" stroke="#222" stroke-width="0.7"/>
<text x="72.60" y="549.77" font-size="6.5" font-family="Liberation Sans, DejaVu Sans, sans-serif" text-anchor="end" fill="#111">10%</text>
<line x1="73.70" y1="534.75" x2="76.10" y2="534.75" stroke="#222" stroke-width="0.7"/>
<text x="72.60" y="537.05" font-size="6.5" font-family="Liberation Sans, DejaVu Sans, sans-serif" text-anchor="end" fill="#111">20%</text>
<line x1="73.70" y1="522.02" x2="76.10" y2="522.02" stroke="#222" stroke-width="0.7"/>
<text x="72.60" y="524.32" font-size="6.5" font-family="Liberation Sans, DejaVu Sans, sans-serif" text-anchor="end" fill="#111">30%</text>
<line x1="73.70" y1="509.30" x2="76.10" y2="509.30" stroke="#222" stroke-width="0.7"/>
<text x="72.60" y="511.60" font-size="6.5" font-family="Liberation Sans, DejaVu Sans, sans-serif" text-anchor="end" fill="#111">40%</text>
<line x1="76.40" y1="555.30" x2="187.60" y2="555.30" stroke="#f00000" stroke-width="1.6" stroke-dasharray="7.8 4.6"/>
<text x="123.11" y="556.00" font-size="11" font-family="Liberation Sans, DejaVu Sans, sans-serif" text-anchor="middle" fill="#111">*</text>
<text x="141.19" y="525.90" font-size="11" font-family="Liberation Sans, DejaVu Sans, sans-serif" text-anchor="middle" fill="#111">***</text>
<rect x="188.40" y="509.30" width="13.20" height="53.40" fill="#fff" stroke="#222" stroke-width="0.8"/>
<text x="192.80" y="536.00" font-size="6.5" font-family="Liberation Sans, DejaVu Sans, sans-serif" text-anchor="middle" fill="#111" transform="rotate(90 192.80 536.00)">Promoter bin</text>
<rect x="78.80" y="594.22" width="16.30" height="23.88" fill="#4682b4"/>
<rect x="96.88" y="569.08" width="16.30" height="49.02" fill="#4682b4"/>
<rect x="114.96" y="569.97" width="16.30" height="48.13" fill="#4682b4"/>
<rect x="133.04" y="583.43" width="16.30" height="34.67" fill="#4682b4"/>
<rect x="151.12" y="571.49" width="16.30" height="46.61" fill="#4682b4"/>
<rect x="169.20" y="582.54" width="16.30" height="35.56" fill="#4682b4"/>
<line x1="76.10" y1="566.00" x2="76.10" y2="619.20" stroke="#111" stroke-width="0.9"/>
<line x1="75.70" y1="618.80" x2="187.60" y2="618.80" stroke="#111" stroke-width="0.9"/>
<line x1="73.70" y1="618.10" x2="76.10" y2="618.10" stroke="#222" stroke-width="0.7"/>
<text x="72.60" y="620.40" font-size="6.5" font-family="Liberation Sans, DejaVu Sans, sans-serif" text-anchor="end" fill="#111">0%</text>
<line x1="73.70" y1="605.40" x2="76.10" y2="605.40" stroke="#222" stroke-width="0.7"/>
<text x="72.60" y="607.70" font-size="6.5" font-family="Liberation Sans, DejaVu Sans, sans-serif" text-anchor="end" fill="#111">10%</text>
<line x1="73.70" y1="592.70" x2="76.10" y2="592.70" stroke="#222" stroke-width="0.7"/>
<text x="72.60" y="595.00" font-size="6.5" font-family="Liberation Sans, DejaVu Sans, sans-serif" text-anchor="end" fill="#111">20%</text>
<line x1="73.70" y1="580.00" x2="76.10" y2="580.00" stroke="#222" stroke-width="0.7"/>
<text x="72.60" y="582.30" font-size="6.5" font-family="Liberation Sans, DejaVu Sans, sans-serif" text-anchor="end" fill="#111">30%</text>
<line x1="73.70" y1="567.30" x2="76.10" y2="567.30" stroke="#222" stroke-width="0.7"/>
<text x="72.60" y="569.60" font-size="6.5" font-family="Liberation Sans, DejaVu Sans, sans-serif" text-anchor="end" fill="#111">40%</text>
<line x1="76.40" y1="580.38" x2="187.60" y2="580.38" stroke="#f00000" stroke-width="1.6" stroke-dasharray="7.8 4.6"/>
<text x="123.11" y="574.60" font-size="11" font-family="Liberation Sans, DejaVu Sans, sans-serif" text-anchor="middle" fill="#111">*</text>
<text x="159.27" y="575.10" font-size="11" font-family="Liberation Sans, DejaVu Sans, sans-serif" text-anchor="middle" fill="#111">***</text>
<rect x="188.40" y="567.30" width="13.20" height="53.00" fill="#fff" stroke="#222" stroke-width="0.8"/>
<text x="192.80" y="593.80" font-size="6.5" font-family="Liberation Sans, DejaVu Sans, sans-serif" text-anchor="middle" fill="#111" transform="rotate(90 192.80 593.80)">Distal bin</text>
<line x1="86.95" y1="618.80" x2="86.95" y2="622.00" stroke="#222" stroke-width="0.7"/>
<line x1="105.03" y1="618.80" x2="105.03" y2="622.00" stroke="#222" stroke-width="0.7"/>
<line x1="123.11" y1="618.80" x2="123.11" y2="622.00" stroke="#222" stroke-width="0.7"/>
<line x1="141.19" y1="618.80" x2="141.19" y2="622.00" stroke="#222" stroke-width="0.7"/>
<line x1="159.27" y1="618.80" x2="159.27" y2="622.00" stroke="#222" stroke-width="0.7"/>
<line x1="177.35" y1="618.80" x2="177.35" y2="622.00" stroke="#222" stroke-width="0.7"/>
<text x="76.00" y="635.90" font-size="10.0" font-family="Liberation Sans, DejaVu Sans, sans-serif" text-anchor="start" fill="#111">EDA</text>
<rect x="96.88" y="691.14" width="16.30" height="1.86" fill="#4682b4"/>
<rect x="114.96" y="685.31" width="16.30" height="7.69" fill="#4682b4"/>
<rect x="133.04" y="658.05" width="16.30" height="34.95" fill="#4682b4"/>
<rect x="151.12" y="691.14" width="16.30" height="1.86" fill="#4682b4"/>
<rect x="169.20" y="692.07" width="16.30" height="0.93" fill="#4682b4"/>
<line x1="76.10" y1="642.10" x2="76.10" y2="694.90" stroke="#111" stroke-width="0.9"/>
<line x1="73.70" y1="693.00" x2="76.10" y2="693.00" stroke="#222" stroke-width="0.7"/>
<text x="72.60" y="695.30" font-size="6.5" font-family="Liberation Sans, DejaVu Sans, sans-serif" text-anchor="end" fill="#111">0%</text>
<line x1="73.70" y1="681.35" x2="76.10" y2="681.35" stroke="#222" stroke-width="0.7"/>
<text x="72.60" y="683.65" font-size="6.5" font-family="Liberation Sans, DejaVu Sans, sans-serif" text-anchor="end" fill="#111">10%</text>
<line x1="73.70" y1="669.70" x2="76.10" y2="669.70" stroke="#222" stroke-width="0.7"/>
<text x="72.60" y="672.00" font-size="6.5" font-family="Liberation Sans, DejaVu Sans, sans-serif" text-anchor="end" fill="#111">20%</text>
<line x1="73.70" y1="658.05" x2="76.10" y2="658.05" stroke="#222" stroke-width="0.7"/>
<text x="72.60" y="660.35" font-size="6.5" font-family="Liberation Sans, DejaVu Sans, sans-serif" text-anchor="end" fill="#111">30%</text>
<line x1="73.70" y1="646.40" x2="76.10" y2="646.40" stroke="#222" stroke-width="0.7"/>
<text x="72.60" y="648.70" font-size="6.5" font-family="Liberation Sans, DejaVu Sans, sans-serif" text-anchor="end" fill="#111">40%</text>
<line x1="76.40" y1="688.40" x2="187.60" y2="688.40" stroke="#f00000" stroke-width="1.6" stroke-dasharray="7.8 4.6"/>
<text x="141.19" y="662.40" font-size="11" font-family="Liberation Sans, DejaVu Sans, sans-serif" text-anchor="middle" fill="#111">***</text>
<rect x="188.40" y="642.10" width="13.20" height="53.00" fill="#fff" stroke="#222" stroke-width="0.8"/>
<text x="192.80" y="668.60" font-size="6.5" font-family="Liberation Sans, DejaVu Sans, sans-serif" text-anchor="middle" fill="#111" transform="rotate(90 192.80 668.60)">Promoter bin</text>
<rect x="78.80" y="728.79" width="16.30" height="21.81" fill="#4682b4"/>
<rect x="96.88" y="702.18" width="16.30" height="48.42" fill="#4682b4"/>
<rect x="114.96" y="711.91" width="16.30" height="38.69" fill="#4682b4"/>
<rect x="133.04" y="723.63" width="16.30" height="26.97" fill="#4682b4"/>
<rect x="151.12" y="705.81" width="16.30" height="44.79" fill="#4682b4"/>
<rect x="169.20" y="716.83" width="16.30" height="33.77" fill="#4682b4"/>
<line x1="76.10" y1="700.30" x2="76.10" y2="752.80" stroke="#111" stroke-width="0.9"/>
<line x1="75.70" y1="752.40" x2="187.60" y2="752.40" stroke="#111" stroke-width="0.9"/>
<line x1="73.70" y1="750.60" x2="76.10" y2="750.60" stroke="#222" stroke-width="0.7"/>
<text x="72.60" y="752.90" font-size="6.5" font-family="Liberation Sans, DejaVu Sans, sans-serif" text-anchor="end" fill="#111">0%</text>
<line x1="73.70" y1="738.88" x2="76.10" y2="738.88" stroke="#222" stroke-width="0.7"/>
<text x="72.60" y="741.17" font-size="6.5" font-family="Liberation Sans, DejaVu Sans, sans-serif" text-anchor="end" fill="#111">10%</text>
<line x1="73.70" y1="727.15" x2="76.10" y2="727.15" stroke="#222" stroke-width="0.7"/>
<text x="72.60" y="729.45" font-size="6.5" font-family="Liberation Sans, DejaVu Sans, sans-serif" text-anchor="end" fill="#111">20%</text>
<line x1="73.70" y1="715.43" x2="76.10" y2="715.43" stroke="#222" stroke-width="0.7"/>
<text x="72.60" y="717.73" font-size="6.5" font-family="Liberation Sans, DejaVu Sans, sans-serif" text-anchor="end" fill="#111">30%</text>
<line x1="73.70" y1="703.70" x2="76.10" y2="703.70" stroke="#222" stroke-width="0.7"/>
<text x="72.60" y="706.00" font-size="6.5" font-family="Liberation Sans, DejaVu Sans, sans-serif" text-anchor="end" fill="#111">40%</text>
<line x1="76.40" y1="715.43" x2="187.60" y2="715.43" stroke="#f00000" stroke-width="1.6" stroke-dasharray="7.8 4.6"/>
<text x="105.03" y="707.60" font-size="11" font-family="Liberation Sans, DejaVu Sans, sans-serif" text-anchor="middle" fill="#111">*</text>
<text x="159.27" y="709.30" font-size="11" font-family="Liberation Sans, DejaVu Sans, sans-serif" text-anchor="middle" fill="#111">***</text>
<rect x="188.40" y="700.30" width="13.20" height="52.40" fill="#fff" stroke="#222" stroke-width="0.8"/>
<text x="192.80" y="726.50" font-size="6.5" font-family="Liberation Sans, DejaVu Sans, sans-serif" text-anchor="middle" fill="#111" transform="rotate(90 192.80 726.50)">Distal bin</text>
<line x1="86.95" y1="752.40" x2="86.95" y2="755.60" stroke="#222" stroke-width="0.7"/>
<line x1="105.03" y1="752.40" x2="105.03" y2="755.60" stroke="#222" stroke-width="0.7"/>
<line x1="123.11" y1="752.40" x2="123.11" y2="755.60" stroke="#222" stroke-width="0.7"/>
<line x1="141.19" y1="752.40" x2="141.19" y2="755.60" stroke="#222" stroke-width="0.7"/>
<line x1="159.27" y1="752.40" x2="159.27" y2="755.60" stroke="#222" stroke-width="0.7"/>
<line x1="177.35" y1="752.40" x2="177.35" y2="755.60" stroke="#222" stroke-width="0.7"/>
<text x="90.55" y="760.00" font-size="7.65" font-family="Liberation Sans, DejaVu Sans, sans-serif" text-anchor="end" fill="#111" transform="rotate(-45 90.55 760.00)">TF_binding_site</text>
<text x="108.63" y="760.00" font-size="7.65" font-family="Liberation Sans, DejaVu Sans, sans-serif" text-anchor="end" fill="#111" transform="rotate(-45 108.63 760.00)">open_chromatin_region</text>
<text x="126.71" y="760.00" font-size="7.65" font-family="Liberation Sans, DejaVu Sans, sans-serif" text-anchor="end" fill="#111" transform="rotate(-45 126.71 760.00)">CTCF_binding_site</text>
<text x="144.79" y="760.00" font-size="7.65" font-family="Liberation Sans, DejaVu Sans, sans-serif" text-anchor="end" fill="#111" transform="rotate(-45 144.79 760.00)">promoter</text>
<text x="162.87" y="760.00" font-size="7.65" font-family="Liberation Sans, DejaVu Sans, sans-serif" text-anchor="end" fill="#111" transform="rotate(-45 162.87 760.00)">enhancer</text>
<text x="180.95" y="760.00" font-size="7.65" font-family="Liberation Sans, DejaVu Sans, sans-serif" text-anchor="end" fill="#111" transform="rotate(-45 180.95 760.00)">unknown</text>
<text x="55.30" y="564.60" font-size="8.3" font-family="Liberation Sans, DejaVu Sans, sans-serif" text-anchor="middle" fill="#111" transform="rotate(-90 55.30 564.60)">Proportion of covered SNPs</text>
<text x="55.30" y="696.50" font-size="8.3" font-family="Liberation Sans, DejaVu Sans, sans-serif" text-anchor="middle" fill="#111" transform="rotate(-90 55.30 696.50)">Proportion of covered SNPs</text>
<text x="131.70" y="825.60" font-size="8.25" font-family="Liberation Sans, DejaVu Sans, sans-serif" text-anchor="middle" fill="#111">SNP regulatory annotation</text>
<text transform="translate(9.87 521.36) scale(0.944 1.085)" x="0" y="0" font-size="20" font-family="Liberation Sans, DejaVu Sans, sans-serif" font-weight="bold" fill="#000" stroke="#000" stroke-width="0.25" stroke-linejoin="miter" vector-effect="non-scaling-stroke">G</text>
<defs><linearGradient id="gre" x1="0" y1="0" x2="0" y2="1"><stop offset="0" stop-color="#ff0000"/><stop offset="0.25" stop-color="#e8006a"/><stop offset="0.5" stop-color="#c800a0"/><stop offset="0.75" stop-color="#9400cf"/><stop offset="1" stop-color="#0000ff"/></linearGradient></defs>
<text x="360.10" y="243.10" font-size="7.8" font-family="DejaVu Sans, Liberation Sans, sans-serif" text-anchor="start" fill="#000">Capture Micro-C (arteriole)</text>
<rect x="360.10" y="247.90" width="97.00" height="183.40" fill="#fff"/>
<line x1="364.50" y1="247.90" x2="364.50" y2="431.30" stroke="#ebebeb" stroke-width="0.6"/>
<line x1="373.70" y1="247.90" x2="373.70" y2="431.30" stroke="#f2f2f2" stroke-width="0.4"/>
<line x1="382.90" y1="247.90" x2="382.90" y2="431.30" stroke="#ebebeb" stroke-width="0.6"/>
<line x1="392.10" y1="247.90" x2="392.10" y2="431.30" stroke="#f2f2f2" stroke-width="0.4"/>
<line x1="401.30" y1="247.90" x2="401.30" y2="431.30" stroke="#ebebeb" stroke-width="0.6"/>
<line x1="410.50" y1="247.90" x2="410.50" y2="431.30" stroke="#f2f2f2" stroke-width="0.4"/>
<line x1="419.70" y1="247.90" x2="419.70" y2="431.30" stroke="#ebebeb" stroke-width="0.6"/>
<line x1="428.90" y1="247.90" x2="428.90" y2="431.30" stroke="#f2f2f2" stroke-width="0.4"/>
<line x1="438.10" y1="247.90" x2="438.10" y2="431.30" stroke="#ebebeb" stroke-width="0.6"/>
<line x1="447.30" y1="247.90" x2="447.30" y2="431.30" stroke="#f2f2f2" stroke-width="0.4"/>
<line x1="456.50" y1="247.90" x2="456.50" y2="431.30" stroke="#ebebeb" stroke-width="0.6"/>
<line x1="360.10" y1="258.50" x2="457.10" y2="258.50" stroke="#ebebeb" stroke-width="0.6"/>
<line x1="360.10" y1="276.63" x2="457.10" y2="276.63" stroke="#ebebeb" stroke-width="0.6"/>
<line x1="360.10" y1="294.76" x2="457.10" y2="294.76" stroke="#ebebeb" stroke-width="0.6"/>
<line x1="360.10" y1="312.89" x2="457.10" y2="312.89" stroke="#ebebeb" stroke-width="0.6"/>
<line x1="360.10" y1="331.02" x2="457.10" y2="331.02" stroke="#ebebeb" stroke-width="0.6"/>
<line x1="360.10" y1="349.15" x2="457.10" y2="349.15" stroke="#ebebeb" stroke-width="0.6"/>
<line x1="360.10" y1="367.28" x2="457.10" y2="367.28" stroke="#ebebeb" stroke-width="0.6"/>
<line x1="360.10" y1="385.41" x2="457.10" y2="385.41" stroke="#ebebeb" stroke-width="0.6"/>
<line x1="360.10" y1="403.54" x2="457.10" y2="403.54" stroke="#ebebeb" stroke-width="0.6"/>
<line x1="360.10" y1="421.67" x2="457.10" y2="421.67" stroke="#ebebeb" stroke-width="0.6"/>
<rect x="364.50" y="250.50" width="74.30" height="16.00" fill="#ff0000"/>
<line x1="357.60" y1="258.50" x2="360.10" y2="258.50" stroke="#333" stroke-width="0.6"/>
<text x="356.60" y="261.20" font-size="7.15" font-family="DejaVu Sans, Liberation Sans, sans-serif" text-anchor="end" fill="#000">muscle organ development</text>
<rect x="364.50" y="268.63" width="88.50" height="16.00" fill="#fe0206"/>
<line x1="357.60" y1="276.63" x2="360.10" y2="276.63" stroke="#333" stroke-width="0.6"/>
<text x="356.60" y="279.33" font-size="7.15" font-family="DejaVu Sans, Liberation Sans, sans-serif" text-anchor="end" fill="#000">muscle system process</text>
<rect x="364.50" y="286.76" width="81.70" height="16.00" fill="#f3032c"/>
<line x1="357.60" y1="294.76" x2="360.10" y2="294.76" stroke="#333" stroke-width="0.6"/>
<text x="356.60" y="297.46" font-size="7.15" font-family="DejaVu Sans, Liberation Sans, sans-serif" text-anchor="end" fill="#000">muscle tissue development</text>
<rect x="364.50" y="304.89" width="12.30" height="16.00" fill="#cc0486"/>
<line x1="357.60" y1="312.89" x2="360.10" y2="312.89" stroke="#333" stroke-width="0.6"/>
<text x="356.60" y="311.79" font-size="7.15" font-family="DejaVu Sans, Liberation Sans, sans-serif" text-anchor="end" fill="#000">negative regulation of</text>
<text x="356.60" y="319.39" font-size="7.15" font-family="DejaVu Sans, Liberation Sans, sans-serif" text-anchor="end" fill="#000">miRNA-mediated gene silencing</text>
<rect x="364.50" y="323.02" width="78.20" height="16.00" fill="#c4048f"/>
<line x1="357.60" y1="331.02" x2="360.10" y2="331.02" stroke="#333" stroke-width="0.6"/>
<text x="356.60" y="333.72" font-size="7.15" font-family="DejaVu Sans, Liberation Sans, sans-serif" text-anchor="end" fill="#000">muscle cell differentiation</text>
<rect x="364.50" y="341.15" width="53.10" height="16.00" fill="#c9048a"/>
<line x1="357.60" y1="349.15" x2="360.10" y2="349.15" stroke="#333" stroke-width="0.6"/>
<text x="356.60" y="348.05" font-size="7.15" font-family="DejaVu Sans, Liberation Sans, sans-serif" text-anchor="end" fill="#000">regulation of muscle system</text>
<text x="356.60" y="355.65" font-size="7.15" font-family="DejaVu Sans, Liberation Sans, sans-serif" text-anchor="end" fill="#000">process</text>
<rect x="364.50" y="359.28" width="12.30" height="16.00" fill="#cc0486"/>
<line x1="357.60" y1="367.28" x2="360.10" y2="367.28" stroke="#333" stroke-width="0.6"/>
<text x="356.60" y="362.38" font-size="7.15" font-family="DejaVu Sans, Liberation Sans, sans-serif" text-anchor="end" fill="#000">negative regulation of</text>
<text x="356.60" y="369.98" font-size="7.15" font-family="DejaVu Sans, Liberation Sans, sans-serif" text-anchor="end" fill="#000">post-transcriptional gene</text>
<text x="356.60" y="377.58" font-size="7.15" font-family="DejaVu Sans, Liberation Sans, sans-serif" text-anchor="end" fill="#000">silencing</text>
<rect x="364.50" y="377.41" width="12.30" height="16.00" fill="#cc0486"/>
<line x1="357.60" y1="385.41" x2="360.10" y2="385.41" stroke="#333" stroke-width="0.6"/>
<text x="356.60" y="384.31" font-size="7.15" font-family="DejaVu Sans, Liberation Sans, sans-serif" text-anchor="end" fill="#000">negative regulation of gene</text>
<text x="356.60" y="391.91" font-size="7.15" font-family="DejaVu Sans, Liberation Sans, sans-serif" text-anchor="end" fill="#000">silencing by RNA</text>
<rect x="364.50" y="395.54" width="12.30" height="16.00" fill="#cc0486"/>
<line x1="357.60" y1="403.54" x2="360.10" y2="403.54" stroke="#333" stroke-width="0.6"/>
<text x="356.60" y="398.64" font-size="7.15" font-family="DejaVu Sans, Liberation Sans, sans-serif" text-anchor="end" fill="#000">negative regulation of</text>
<text x="356.60" y="406.24" font-size="7.15" font-family="DejaVu Sans, Liberation Sans, sans-serif" text-anchor="end" fill="#000">post-transcriptional gene</text>
<text x="356.60" y="413.84" font-size="7.15" font-family="DejaVu Sans, Liberation Sans, sans-serif" text-anchor="end" fill="#000">silencing by RNA</text>
<rect x="364.50" y="413.67" width="52.50" height="16.00" fill="#0000ff"/>
<line x1="357.60" y1="421.67" x2="360.10" y2="421.67" stroke="#333" stroke-width="0.6"/>
<text x="356.60" y="420.57" font-size="7.15" font-family="DejaVu Sans, Liberation Sans, sans-serif" text-anchor="end" fill="#000">striated muscle tissue</text>
<text x="356.60" y="428.17" font-size="7.15" font-family="DejaVu Sans, Liberation Sans, sans-serif" text-anchor="end" fill="#000">development</text>
<rect x="360.10" y="247.90" width="97.00" height="183.40" fill="none" stroke="#b3b3b3" stroke-width="0.8"/>
<line x1="364.50" y1="431.30" x2="364.50" y2="433.70" stroke="#333" stroke-width="0.6"/>
<text x="364.50" y="440.40" font-size="7.1" font-family="DejaVu Sans, Liberation Sans, sans-serif" text-anchor="middle" fill="#000">0.00</text>
<line x1="382.90" y1="431.30" x2="382.90" y2="433.70" stroke="#333" stroke-width="0.6"/>
<text x="382.90" y="440.40" font-size="7.1" font-family="DejaVu Sans, Liberation Sans, sans-serif" text-anchor="middle" fill="#000">0.01</text>
<line x1="401.30" y1="431.30" x2="401.30" y2="433.70" stroke="#333" stroke-width="0.6"/>
<text x="401.30" y="440.40" font-size="7.1" font-family="DejaVu Sans, Liberation Sans, sans-serif" text-anchor="middle" fill="#000">0.02</text>
<line x1="419.70" y1="431.30" x2="419.70" y2="433.70" stroke="#333" stroke-width="0.6"/>
<text x="419.70" y="440.40" font-size="7.1" font-family="DejaVu Sans, Liberation Sans, sans-serif" text-anchor="middle" fill="#000">0.03</text>
<line x1="438.10" y1="431.30" x2="438.10" y2="433.70" stroke="#333" stroke-width="0.6"/>
<text x="438.10" y="440.40" font-size="7.1" font-family="DejaVu Sans, Liberation Sans, sans-serif" text-anchor="middle" fill="#000">0.04</text>
<line x1="456.50" y1="431.30" x2="456.50" y2="433.70" stroke="#333" stroke-width="0.6"/>
<text x="456.50" y="440.40" font-size="7.1" font-family="DejaVu Sans, Liberation Sans, sans-serif" text-anchor="middle" fill="#000">0.05</text>
<text x="409.00" y="448.50" font-size="6.8" font-family="DejaVu Sans, Liberation Sans, sans-serif" text-anchor="middle" fill="#000">GeneRatio</text>
<rect x="421.20" y="358.10" width="35.30" height="64.20" fill="#fff" stroke="#555" stroke-width="0.7"/>
<text x="424.90" y="364.60" font-size="6.2" font-family="DejaVu Sans, Liberation Sans, sans-serif" text-anchor="start" fill="#000">p.adjust</text>
<rect x="425.00" y="368.70" width="9.70" height="50.40" fill="url(#gre)"/>
<text x="438.60" y="383.50" font-size="5.3" font-family="DejaVu Sans, Liberation Sans, sans-serif" text-anchor="start" fill="#000">1e-04</text>
<line x1="425.00" y1="381.60" x2="426.94" y2="381.60" stroke="#fff" stroke-width="0.4"/>
<line x1="432.76" y1="381.60" x2="434.70" y2="381.60" stroke="#fff" stroke-width="0.4"/>
<text x="438.60" y="396.90" font-size="5.3" font-family="DejaVu Sans, Liberation Sans, sans-serif" text-anchor="start" fill="#000">2e-04</text>
<line x1="425.00" y1="395.00" x2="426.94" y2="395.00" stroke="#fff" stroke-width="0.4"/>
<line x1="432.76" y1="395.00" x2="434.70" y2="395.00" stroke="#fff" stroke-width="0.4"/>
<text x="438.60" y="410.80" font-size="5.3" font-family="DejaVu Sans, Liberation Sans, sans-serif" text-anchor="start" fill="#000">3e-04</text>
<line x1="425.00" y1="408.90" x2="426.94" y2="408.90" stroke="#fff" stroke-width="0.4"/>
<line x1="432.76" y1="408.90" x2="434.70" y2="408.90" stroke="#fff" stroke-width="0.4"/>
<text x="576.40" y="243.10" font-size="7.8" font-family="DejaVu Sans, Liberation Sans, sans-serif" text-anchor="start" fill="#000">Capture Micro-C (EDA)</text>
<rect x="576.40" y="247.90" width="102.20" height="183.40" fill="#fff"/>
<line x1="580.60" y1="247.90" x2="580.60" y2="431.30" stroke="#ebebeb" stroke-width="0.6"/>
<line x1="595.57" y1="247.90" x2="595.57" y2="431.30" stroke="#f2f2f2" stroke-width="0.4"/>
<line x1="610.54" y1="247.90" x2="610.54" y2="431.30" stroke="#ebebeb" stroke-width="0.6"/>
<line x1="625.51" y1="247.90" x2="625.51" y2="431.30" stroke="#f2f2f2" stroke-width="0.4"/>
<line x1="640.48" y1="247.90" x2="640.48" y2="431.30" stroke="#ebebeb" stroke-width="0.6"/>
<line x1="655.45" y1="247.90" x2="655.45" y2="431.30" stroke="#f2f2f2" stroke-width="0.4"/>
<line x1="670.42" y1="247.90" x2="670.42" y2="431.30" stroke="#ebebeb" stroke-width="0.6"/>
<line x1="576.40" y1="258.50" x2="678.60" y2="258.50" stroke="#ebebeb" stroke-width="0.6"/>
<line x1="576.40" y1="276.63" x2="678.60" y2="276.63" stroke="#ebebeb" stroke-width="0.6"/>
<line x1="576.40" y1="294.76" x2="678.60" y2="294.76" stroke="#ebebeb" stroke-width="0.6"/>
<line x1="576.40" y1="312.89" x2="678.60" y2="312.89" stroke="#ebebeb" stroke-width="0.6"/>
<line x1="576.40" y1="331.02" x2="678.60" y2="331.02" stroke="#ebebeb" stroke-width="0.6"/>
<line x1="576.40" y1="349.15" x2="678.60" y2="349.15" stroke="#ebebeb" stroke-width="0.6"/>
<line x1="576.40" y1="367.28" x2="678.60" y2="367.28" stroke="#ebebeb" stroke-width="0.6"/>
<line x1="576.40" y1="385.41" x2="678.60" y2="385.41" stroke="#ebebeb" stroke-width="0.6"/>
<line x1="576.40" y1="403.54" x2="678.60" y2="403.54" stroke="#ebebeb" stroke-width="0.6"/>
<line x1="576.40" y1="421.67" x2="678.60" y2="421.67" stroke="#ebebeb" stroke-width="0.6"/>
<rect x="580.60" y="250.50" width="93.50" height="16.00" fill="#ff0000"/>
<line x1="573.90" y1="258.50" x2="576.40" y2="258.50" stroke="#333" stroke-width="0.6"/>
<text x="572.90" y="257.40" font-size="7.12" font-family="DejaVu Sans, Liberation Sans, sans-serif" text-anchor="end" fill="#000">cellular response to hormone</text>
<text x="572.90" y="265.00" font-size="7.12" font-family="DejaVu Sans, Liberation Sans, sans-serif" text-anchor="end" fill="#000">stimulus</text>
<rect x="580.60" y="268.63" width="60.40" height="16.00" fill="#e20657"/>
<line x1="573.90" y1="276.63" x2="576.40" y2="276.63" stroke="#333" stroke-width="0.6"/>
<text x="572.90" y="279.33" font-size="7.12" font-family="DejaVu Sans, Liberation Sans, sans-serif" text-anchor="end" fill="#000">cellular response to peptide</text>
<rect x="580.60" y="286.76" width="42.70" height="16.00" fill="#bb0090"/>
<line x1="573.90" y1="294.76" x2="576.40" y2="294.76" stroke="#333" stroke-width="0.6"/>
<text x="572.90" y="293.66" font-size="7.12" font-family="DejaVu Sans, Liberation Sans, sans-serif" text-anchor="end" fill="#000">extrinsic apoptotic</text>
<text x="572.90" y="301.26" font-size="7.12" font-family="DejaVu Sans, Liberation Sans, sans-serif" text-anchor="end" fill="#000">signaling pathway</text>
<rect x="580.60" y="304.89" width="50.10" height="16.00" fill="#6100e1"/>
<line x1="573.90" y1="312.89" x2="576.40" y2="312.89" stroke="#333" stroke-width="0.6"/>
<text x="572.90" y="311.79" font-size="7.12" font-family="DejaVu Sans, Liberation Sans, sans-serif" text-anchor="end" fill="#000">cellular response to peptide</text>
<text x="572.90" y="319.39" font-size="7.12" font-family="DejaVu Sans, Liberation Sans, sans-serif" text-anchor="end" fill="#000">hormone stimulus</text>
<rect x="580.60" y="323.02" width="25.10" height="16.00" fill="#6000e2"/>
<line x1="573.90" y1="331.02" x2="576.40" y2="331.02" stroke="#333" stroke-width="0.6"/>
<text x="572.90" y="333.72" font-size="7.12" font-family="DejaVu Sans, Liberation Sans, sans-serif" text-anchor="end" fill="#000">female sex differentiation</text>
<rect x="580.60" y="341.15" width="58.00" height="16.00" fill="#6a00dc"/>
<line x1="573.90" y1="349.15" x2="576.40" y2="349.15" stroke="#333" stroke-width="0.6"/>
<text x="572.90" y="351.85" font-size="7.12" font-family="DejaVu Sans, Liberation Sans, sans-serif" text-anchor="end" fill="#000">chromatin remodeling</text>
<rect x="580.60" y="359.28" width="31.40" height="16.00" fill="#0000ff"/>
<line x1="573.90" y1="367.28" x2="576.40" y2="367.28" stroke="#333" stroke-width="0.6"/>
<text x="572.90" y="366.18" font-size="7.12" font-family="DejaVu Sans, Liberation Sans, sans-serif" text-anchor="end" fill="#000">regulation of extrinsic</text>
<text x="572.90" y="373.78" font-size="7.12" font-family="DejaVu Sans, Liberation Sans, sans-serif" text-anchor="end" fill="#000">apoptotic signaling pathway</text>
<rect x="580.60" y="377.41" width="50.00" height="16.00" fill="#0000ff"/>
<line x1="573.90" y1="385.41" x2="576.40" y2="385.41" stroke="#333" stroke-width="0.6"/>
<text x="572.90" y="388.11" font-size="7.12" font-family="DejaVu Sans, Liberation Sans, sans-serif" text-anchor="end" fill="#000">response to hypoxia</text>
<rect x="580.60" y="395.54" width="80.20" height="16.00" fill="#0000ff"/>
<line x1="573.90" y1="403.54" x2="576.40" y2="403.54" stroke="#333" stroke-width="0.6"/>
<text x="572.90" y="406.24" font-size="7.12" font-family="DejaVu Sans, Liberation Sans, sans-serif" text-anchor="end" fill="#000">skeletal system development</text>
<rect x="580.60" y="413.67" width="12.50" height="16.00" fill="#0000ff"/>
<line x1="573.90" y1="421.67" x2="576.40" y2="421.67" stroke="#333" stroke-width="0.6"/>
<text x="572.90" y="412.97" font-size="7.12" font-family="DejaVu Sans, Liberation Sans, sans-serif" text-anchor="end" fill="#000">negative regulation of</text>
<text x="572.90" y="420.57" font-size="7.12" font-family="DejaVu Sans, Liberation Sans, sans-serif" text-anchor="end" fill="#000">intracellular steroid</text>
<text x="572.90" y="428.17" font-size="7.12" font-family="DejaVu Sans, Liberation Sans, sans-serif" text-anchor="end" fill="#000">hormone receptor signaling</text>
<text x="572.90" y="435.77" font-size="7.12" font-family="DejaVu Sans, Liberation Sans, sans-serif" text-anchor="end" fill="#000">pathway</text>
<rect x="576.40" y="247.90" width="102.20" height="183.40" fill="none" stroke="#b3b3b3" stroke-width="0.8"/>
<line x1="580.60" y1="431.30" x2="580.60" y2="433.70" stroke="#333" stroke-width="0.6"/>
<text x="580.60" y="440.40" font-size="7.1" font-family="DejaVu Sans, Liberation Sans, sans-serif" text-anchor="middle" fill="#000">0.00</text>
<line x1="610.54" y1="431.30" x2="610.54" y2="433.70" stroke="#333" stroke-width="0.6"/>
<text x="610.54" y="440.40" font-size="7.1" font-family="DejaVu Sans, Liberation Sans, sans-serif" text-anchor="middle" fill="#000">0.02</text>
<line x1="640.48" y1="431.30" x2="640.48" y2="433.70" stroke="#333" stroke-width="0.6"/>
<text x="640.48" y="440.40" font-size="7.1" font-family="DejaVu Sans, Liberation Sans, sans-serif" text-anchor="middle" fill="#000">0.04</text>
<line x1="670.42" y1="431.30" x2="670.42" y2="433.70" stroke="#333" stroke-width="0.6"/>
<text x="670.42" y="440.40" font-size="7.1" font-family="DejaVu Sans, Liberation Sans, sans-serif" text-anchor="middle" fill="#000">0.06</text>
<text x="627.30" y="448.50" font-size="6.8" font-family="DejaVu Sans, Liberation Sans, sans-serif" text-anchor="middle" fill="#000">GeneRatio</text>
<rect x="642.60" y="326.00" width="34.60" height="64.00" fill="#fff" stroke="#8a8a8a" stroke-width="0.7"/>
<text x="644.90" y="332.50" font-size="6.2" font-family="DejaVu Sans, Liberation Sans, sans-serif" text-anchor="start" fill="#000">p.adjust</text>
<rect x="644.90" y="337.00" width="9.90" height="50.60" fill="url(#gre)"/>
<text x="658.70" y="352.10" font-size="5.3" font-family="DejaVu Sans, Liberation Sans, sans-serif" text-anchor="start" fill="#000">0.003</text>
<line x1="644.90" y1="350.20" x2="646.88" y2="350.20" stroke="#fff" stroke-width="0.4"/>
<line x1="652.82" y1="350.20" x2="654.80" y2="350.20" stroke="#fff" stroke-width="0.4"/>
<text x="658.70" y="365.60" font-size="5.3" font-family="DejaVu Sans, Liberation Sans, sans-serif" text-anchor="start" fill="#000">0.006</text>
<line x1="644.90" y1="363.70" x2="646.88" y2="363.70" stroke="#fff" stroke-width="0.4"/>
<line x1="652.82" y1="363.70" x2="654.80" y2="363.70" stroke="#fff" stroke-width="0.4"/>
<text x="658.70" y="379.00" font-size="5.3" font-family="DejaVu Sans, Liberation Sans, sans-serif" text-anchor="start" fill="#000">0.009</text>
<line x1="644.90" y1="377.10" x2="646.88" y2="377.10" stroke="#fff" stroke-width="0.4"/>
<line x1="652.82" y1="377.10" x2="654.80" y2="377.10" stroke="#fff" stroke-width="0.4"/>
<text transform="translate(257.47 242.5) scale(0.731 1.04)" x="0" y="0" font-size="20" font-family="Liberation Sans, DejaVu Sans, sans-serif" font-weight="bold" fill="#000" stroke="#000" stroke-width="0.8" stroke-linejoin="miter" vector-effect="non-scaling-stroke">E</text>
<text x="263.10" y="472.60" font-size="9.08" font-family="DejaVu Sans, Liberation Sans, sans-serif" text-anchor="start" fill="#000">EC enriched genes</text>
<polyline points="276.4,523.0 276.6,528.1" fill="none" stroke="#c6c6c6" stroke-width="2.3" stroke-linecap="round" stroke-linejoin="round"/>
<polyline points="276.8,531.3 276.9,534.6" fill="none" stroke="#c6c6c6" stroke-width="2.3" stroke-linecap="round" stroke-linejoin="round"/>
<polyline points="277.1,537.6 277.4,541.2 277.7,544.2 278.1,546.8 278.4,548.1 278.7,548.9 279.0,549.7 279.4,550.4 279.7,551.0 280.0,551.6 280.3,552.1 280.7,552.6 281.0,553.0 281.3,553.5 281.6,553.9 282.0,554.3 282.3,554.7 282.6,555.0 282.9,555.4 283.3,556.0 283.6,556.7 283.9,557.3 284.1,557.8" fill="none" stroke="#c6c6c6" stroke-width="2.4" stroke-linecap="round" stroke-linejoin="round"/>
<polyline points="284.1,557.8 285.1,559.7 286.1,561.3 287.1,562.8 288.0,564.3 289.0,565.6 290.0,566.6 291.0,567.5 291.9,568.4 292.9,569.2 293.9,570.0 294.9,570.7 295.8,571.4 296.8,572.1 297.8,572.7 298.8,573.4 299.7,574.0 300.7,574.6 301.7,575.2 302.7,575.8 303.6,576.4 304.6,576.9 305.6,577.5 306.6,578.0 307.5,578.5 308.5,578.9 309.5,579.3 310.5,579.7 311.4,580.1 312.4,580.5 313.4,580.8 314.4,581.2 315.3,581.5 316.3,581.9 317.3,582.2 318.2,582.5 319.2,582.9 320.2,583.2 321.2,583.5 322.1,583.8 323.1,584.1 324.1,584.3 325.1,584.6 326.0,584.8 327.0,585.1 328.0,585.3 329.0,585.5 329.9,585.8 330.9,586.0 331.9,586.2 332.9,586.5 333.8,586.7 334.8,586.9 335.8,587.1 336.8,587.3 337.7,587.5 338.7,587.7 339.7,587.9 340.7,588.1 341.6,588.3 342.6,588.5 343.6,588.7 344.6,588.9 345.5,589.0 346.5,589.2 347.5,589.4 348.5,589.6 349.4,589.7 350.4,589.9 351.4,590.1 352.4,590.2 353.3,590.4 354.3,590.5 355.3,590.7 356.2,590.8 357.2,591.0 358.2,591.1 359.2,591.3 360.1,591.4 361.1,591.6 362.1,591.7 363.1,591.9 364.0,592.0 365.0,592.1 366.0,592.3 367.0,592.4 367.9,592.6 368.9,592.9 369.9,593.1 370.9,593.3 371.8,593.5 372.8,593.7 373.8,594.0 374.8,594.2 375.7,594.3 376.7,594.4 377.7,594.5 378.7,594.6 379.6,594.7 380.6,594.9 381.6,595.0 382.6,595.1 383.5,595.2 384.5,595.3 385.5,595.4 386.5,595.5 387.4,595.6 388.4,595.7 389.4,595.8 390.4,595.9 391.3,596.0 392.3,596.1 393.3,596.2 394.3,596.3 395.2,596.4 396.2,596.5 397.2,596.6 398.1,596.7 399.1,596.8 400.1,596.9 401.1,597.0 402.0,597.1 403.0,597.2 404.0,597.3 405.0,597.3 405.9,597.4 406.9,597.5 407.9,597.6 408.9,597.7 409.8,597.8 410.8,597.9 411.8,598.0 412.8,598.0 413.7,598.1 414.7,598.2 415.7,598.3 416.7,598.4 417.6,598.4 418.6,598.5 419.6,598.6 420.6,598.7 421.5,598.8 422.5,598.8 423.5,598.9 424.5,599.0 425.4,599.1 426.4,599.1 427.4,599.2 428.4,599.3 429.3,599.4 430.3,599.4 431.3,599.5 432.3,599.6 433.2,599.7 434.2,599.7 435.2,599.8 436.2,599.9 437.1,600.0 438.1,600.1 439.1,600.2 440.0,600.3 441.0,600.4 442.0,600.5 443.0,600.6 443.9,600.7 444.9,600.8 445.9,600.9 446.9,601.0 447.8,601.1 448.8,601.2 449.8,601.3 450.8,601.4 451.7,601.5 452.7,601.5 453.7,601.6 454.7,601.7 455.6,601.8 456.6,601.9 457.6,602.0 458.6,602.1 459.5,602.2 460.5,602.3 461.5,602.4 462.5,602.5 463.4,602.6 464.4,602.6 465.4,602.7 466.4,602.8 467.3,603.0 468.3,603.1 469.3,603.2 470.3,603.3 471.2,603.4 472.2,603.5 473.2,603.6 474.2,603.7 475.1,603.8 476.1,603.9 477.1,604.0 478.0,604.1 479.0,604.2 480.0,604.3 481.0,604.4 481.9,604.5 482.9,604.6 483.9,604.7 484.9,604.8 485.8,604.9 486.8,605.0 487.8,605.1 488.8,605.2 489.7,605.3 490.7,605.4 491.7,605.6 492.7,605.9 493.6,606.1 494.6,606.3 495.6,606.6 496.6,606.8 497.5,607.0 498.5,608.1" fill="none" stroke="#c6c6c6" stroke-width="2.4" stroke-linecap="round" stroke-linejoin="round"/>
<polyline points="286.7,562.3 287.7,563.8 288.7,565.1 289.7,566.3 290.6,567.2 291.6,568.1 292.6,568.9 293.6,569.7 294.5,570.5 295.5,571.2 296.5,571.9 297.5,572.5 298.4,573.2 299.4,573.8 299.9,574.1" fill="none" stroke="#7cbfee" stroke-width="4.7" stroke-linecap="round" stroke-linejoin="round"/>
<polyline points="310.9,579.9 311.9,580.3 312.9,580.7 313.9,581.0 314.8,581.4 315.8,581.7 316.8,582.1 317.8,582.4 318.7,582.7 319.7,583.0 320.7,583.3 321.7,583.6 322.6,583.9 323.6,584.2 324.6,584.4 325.6,584.7 326.5,584.9 327.5,585.2 328.5,585.4 329.5,585.7 330.4,585.9 331.4,586.1 332.4,586.3 333.4,586.6 334.3,586.8 335.3,587.0 336.3,587.2 337.2,587.4 338.1,587.6" fill="none" stroke="#7cbfee" stroke-width="4.7" stroke-linecap="round" stroke-linejoin="round"/>
<polyline points="370.5,593.2 371.5,593.4 372.5,593.7 373.5,593.9 374.4,594.1 375.4,594.3 376.4,594.4 377.4,594.5 378.3,594.6 379.3,594.7 380.3,594.8 381.3,594.9 382.2,595.0 382.9,595.1" fill="none" stroke="#7cbfee" stroke-width="4.7" stroke-linecap="round" stroke-linejoin="round"/>
<polyline points="385.2,595.4 386.1,595.5 387.1,595.6 388.1,595.7 389.1,595.8 390.0,595.9 391.0,596.0 392.0,596.1 393.0,596.2 393.9,596.3 394.9,596.4 395.9,596.5 396.8,596.6 397.8,596.7 398.8,596.8 399.8,596.9 400.7,597.0 401.7,597.0 402.7,597.1 403.7,597.2 404.6,597.3 405.6,597.4 406.6,597.5 407.6,597.6 408.5,597.7 409.5,597.8 410.5,597.8 411.5,597.9 412.4,598.0 413.3,598.1" fill="none" stroke="#7cbfee" stroke-width="4.7" stroke-linecap="round" stroke-linejoin="round"/>
<polyline points="417.3,598.4 418.3,598.5 419.3,598.6 420.2,598.7 421.2,598.7 422.2,598.8 423.2,598.9 424.1,599.0 425.1,599.0 426.1,599.1 427.1,599.2 428.0,599.3 429.0,599.3 430.0,599.4 431.0,599.5 431.9,599.6 432.9,599.6 433.9,599.7 434.9,599.8 435.8,599.8 436.8,599.9 437.8,600.0 438.7,600.1 439.7,600.2 440.7,600.3 441.7,600.4 442.6,600.5 443.6,600.6 444.6,600.7 445.6,600.8 446.5,600.9 447.5,601.0 448.2,601.1" fill="none" stroke="#7cbfee" stroke-width="4.7" stroke-linecap="round" stroke-linejoin="round"/>
<polyline points="451.7,601.5 452.7,601.5 453.7,601.6 454.7,601.7 455.6,601.8 456.6,601.9 457.6,602.0 458.4,602.1" fill="none" stroke="#7cbfee" stroke-width="4.7" stroke-linecap="round" stroke-linejoin="round"/>
<polyline points="462.1,602.4 463.1,602.5 464.1,602.6 465.1,602.7 466.0,602.8 467.0,602.9 468.0,603.0 468.6,603.1" fill="none" stroke="#7cbfee" stroke-width="4.7" stroke-linecap="round" stroke-linejoin="round"/>
<polyline points="472.2,603.5 473.2,603.6 474.2,603.7 475.1,603.8 476.1,603.9 477.1,604.0 478.0,604.1 479.0,604.2 480.0,604.3 481.0,604.4 481.9,604.5 482.9,604.6 483.9,604.7 484.9,604.8 485.8,604.9 486.8,605.0 487.8,605.1 488.8,605.2 489.7,605.3 490.4,605.3" fill="none" stroke="#7cbfee" stroke-width="4.7" stroke-linecap="round" stroke-linejoin="round"/>
<circle cx="274.7" cy="516.1" r="2.6" fill="#7cbfee"/>
<circle cx="278.2" cy="547.6" r="2.6" fill="#7cbfee"/>
<line x1="298.70" y1="494.90" x2="276.30" y2="514.00" stroke="#5a5a5a" stroke-width="0.6"/>
<line x1="305.30" y1="510.60" x2="279.70" y2="545.90" stroke="#5a5a5a" stroke-width="0.6"/>
<line x1="297.70" y1="539.60" x2="283.80" y2="553.50" stroke="#5a5a5a" stroke-width="0.6"/>
<line x1="351.80" y1="491.80" x2="291.10" y2="563.90" stroke="#5a5a5a" stroke-width="0.6"/>
<line x1="332.40" y1="523.10" x2="299.60" y2="571.50" stroke="#5a5a5a" stroke-width="0.6"/>
<line x1="326.70" y1="555.00" x2="309.10" y2="576.70" stroke="#5a5a5a" stroke-width="0.6"/>
<line x1="431.80" y1="564.10" x2="309.00" y2="578.40" stroke="#5a5a5a" stroke-width="0.6"/>
<line x1="353.00" y1="574.00" x2="309.50" y2="578.90" stroke="#5a5a5a" stroke-width="0.6"/>
<line x1="300.20" y1="583.90" x2="293.00" y2="571.50" stroke="#5a5a5a" stroke-width="0.6"/>
<line x1="303.40" y1="599.10" x2="293.90" y2="572.50" stroke="#5a5a5a" stroke-width="0.6"/>
<circle cx="283.01" cy="555.46" r="2.6" fill="#7cbfee" stroke="#f0644f" stroke-width="0.9"/>
<circle cx="307.85" cy="578.62" r="2.6" fill="#7cbfee" stroke="#f0644f" stroke-width="0.9"/>
<circle cx="323.12" cy="584.06" r="2.6" fill="#7cbfee" stroke="#f0644f" stroke-width="0.9"/>
<circle cx="328.80" cy="585.51" r="2.6" fill="#7cbfee" stroke="#f0644f" stroke-width="0.9"/>
<circle cx="337.57" cy="587.48" r="2.6" fill="#7cbfee" stroke="#f0644f" stroke-width="0.9"/>
<circle cx="348.62" cy="589.59" r="2.6" fill="#7cbfee" stroke="#f0644f" stroke-width="0.9"/>
<circle cx="358.52" cy="591.19" r="2.6" fill="#7cbfee" stroke="#f0644f" stroke-width="0.9"/>
<circle cx="362.10" cy="591.72" r="2.6" fill="#7cbfee" stroke="#f0644f" stroke-width="0.9"/>
<circle cx="366.48" cy="592.34" r="2.6" fill="#7cbfee" stroke="#f0644f" stroke-width="0.9"/>
<circle cx="386.94" cy="595.56" r="2.6" fill="#7cbfee" stroke="#f0644f" stroke-width="0.9"/>
<circle cx="391.33" cy="596.02" r="2.6" fill="#7cbfee" stroke="#f0644f" stroke-width="0.9"/>
<circle cx="396.52" cy="596.54" r="2.6" fill="#7cbfee" stroke="#f0644f" stroke-width="0.9"/>
<circle cx="402.53" cy="597.12" r="2.6" fill="#7cbfee" stroke="#f0644f" stroke-width="0.9"/>
<circle cx="409.19" cy="597.73" r="2.6" fill="#7cbfee" stroke="#f0644f" stroke-width="0.9"/>
<circle cx="431.60" cy="599.53" r="2.6" fill="#7cbfee" stroke="#f0644f" stroke-width="0.9"/>
<circle cx="435.34" cy="599.81" r="2.6" fill="#7cbfee" stroke="#f0644f" stroke-width="0.9"/>
<circle cx="437.29" cy="599.98" r="2.6" fill="#7cbfee" stroke="#f0644f" stroke-width="0.9"/>
<circle cx="445.57" cy="600.84" r="2.6" fill="#7cbfee" stroke="#f0644f" stroke-width="0.9"/>
<circle cx="455.15" cy="601.78" r="2.6" fill="#7cbfee" stroke="#f0644f" stroke-width="0.9"/>
<circle cx="465.54" cy="602.76" r="2.6" fill="#7cbfee" stroke="#f0644f" stroke-width="0.9"/>
<circle cx="474.64" cy="603.74" r="2.6" fill="#7cbfee" stroke="#f0644f" stroke-width="0.9"/>
<circle cx="479.84" cy="604.28" r="2.6" fill="#7cbfee" stroke="#f0644f" stroke-width="0.9"/>
<circle cx="484.38" cy="604.74" r="2.6" fill="#7cbfee" stroke="#f0644f" stroke-width="0.9"/>
<circle cx="489.90" cy="605.29" r="2.6" fill="#7cbfee" stroke="#f0644f" stroke-width="0.9"/>
<text x="268.70" y="494.30" font-size="7.8" font-family="DejaVu Sans, Liberation Sans, sans-serif" text-anchor="start" fill="#111">rs1273886-MECOM</text>
<text x="352.90" y="494.30" font-size="7.8" font-family="DejaVu Sans, Liberation Sans, sans-serif" text-anchor="start" fill="#111">rs74621754-LMCD1</text>
<text x="268.70" y="509.90" font-size="7.8" font-family="DejaVu Sans, Liberation Sans, sans-serif" text-anchor="start" fill="#111">rs1991401-PECAM1</text>
<text x="332.80" y="525.60" font-size="7.8" font-family="DejaVu Sans, Liberation Sans, sans-serif" text-anchor="start" fill="#111">rs568032-TSPAN2</text>
<text x="268.70" y="539.30" font-size="7.8" font-family="DejaVu Sans, Liberation Sans, sans-serif" text-anchor="start" fill="#111">rs2836411-ERG</text>
<text x="293.50" y="554.60" font-size="7.8" font-family="DejaVu Sans, Liberation Sans, sans-serif" text-anchor="start" fill="#111">rs2244643-FBLN5</text>
<text x="432.80" y="566.60" font-size="7.8" font-family="DejaVu Sans, Liberation Sans, sans-serif" text-anchor="start" fill="#111">rs1966323-TES</text>
<text x="353.70" y="576.40" font-size="7.8" font-family="DejaVu Sans, Liberation Sans, sans-serif" text-anchor="start" fill="#111">rs11007929-JCAD</text>
<text x="268.70" y="590.00" font-size="7.8" font-family="DejaVu Sans, Liberation Sans, sans-serif" text-anchor="start" fill="#111">rs4910499-SWAP70</text>
<text x="268.70" y="605.30" font-size="7.8" font-family="DejaVu Sans, Liberation Sans, sans-serif" text-anchor="start" fill="#111">rs1991401-ICAM2</text>
<line x1="263.20" y1="478.50" x2="263.20" y2="613.60" stroke="#111" stroke-width="0.8"/>
<line x1="262.80" y1="613.20" x2="508.90" y2="613.20" stroke="#111" stroke-width="0.8"/>
<line x1="260.80" y1="612.30" x2="263.20" y2="612.30" stroke="#222" stroke-width="0.6"/>
<text x="259.20" y="614.40" font-size="5.9" font-family="DejaVu Sans, Liberation Sans, sans-serif" text-anchor="end" fill="#333">0</text>
<line x1="260.80" y1="570.20" x2="263.20" y2="570.20" stroke="#222" stroke-width="0.6"/>
<text x="259.20" y="572.30" font-size="5.9" font-family="DejaVu Sans, Liberation Sans, sans-serif" text-anchor="end" fill="#333">2</text>
<line x1="260.80" y1="528.10" x2="263.20" y2="528.10" stroke="#222" stroke-width="0.6"/>
<text x="259.20" y="530.20" font-size="5.9" font-family="DejaVu Sans, Liberation Sans, sans-serif" text-anchor="end" fill="#333">4</text>
<line x1="260.80" y1="486.00" x2="263.20" y2="486.00" stroke="#222" stroke-width="0.6"/>
<text x="259.20" y="488.10" font-size="5.9" font-family="DejaVu Sans, Liberation Sans, sans-serif" text-anchor="end" fill="#333">6</text>
<line x1="274.40" y1="613.20" x2="274.40" y2="615.60" stroke="#222" stroke-width="0.6"/>
<text x="274.40" y="621.40" font-size="5.9" font-family="DejaVu Sans, Liberation Sans, sans-serif" text-anchor="middle" fill="#333">0</text>
<line x1="355.60" y1="613.20" x2="355.60" y2="615.60" stroke="#222" stroke-width="0.6"/>
<text x="355.60" y="621.40" font-size="5.9" font-family="DejaVu Sans, Liberation Sans, sans-serif" text-anchor="middle" fill="#333">500</text>
<line x1="436.80" y1="613.20" x2="436.80" y2="615.60" stroke="#222" stroke-width="0.6"/>
<text x="436.80" y="621.40" font-size="5.9" font-family="DejaVu Sans, Liberation Sans, sans-serif" text-anchor="middle" fill="#333">1000</text>
<text x="385.80" y="629.60" font-size="7.2" font-family="DejaVu Sans, Liberation Sans, sans-serif" text-anchor="middle" fill="#111">Rank</text>
<text x="243.70" y="546.00" font-size="7.45" font-family="DejaVu Sans, Liberation Sans, sans-serif" text-anchor="middle" fill="#111" transform="rotate(-90 243.70 546.00)">Log2 fold-change</text>
<text x="251.20" y="546.00" font-size="7.45" font-family="DejaVu Sans, Liberation Sans, sans-serif" text-anchor="middle" fill="#111" transform="rotate(-90 251.20 546.00)">(compared to other cells)</text>
<text transform="translate(225.48 467.6) scale(0.978 1.076)" x="0" y="0" font-size="20" font-family="Liberation Sans, DejaVu Sans, sans-serif" font-weight="bold" fill="#000" stroke="#000" stroke-width="0.21" stroke-linejoin="miter" vector-effect="non-scaling-stroke">H</text>
<rect x="496.30" y="474.40" width="70.00" height="100.20" fill="#fff" stroke="#a6a6a6" stroke-width="0.8"/>
<text x="498.50" y="482.90" font-size="7.5" font-family="DejaVu Sans, Liberation Sans, sans-serif" text-anchor="start" fill="#000">Capture Micro-C</text>
<text x="498.50" y="491.20" font-size="7.5" font-family="DejaVu Sans, Liberation Sans, sans-serif" text-anchor="start" fill="#000">specificity</text>
<circle cx="504.2" cy="502.0" r="2.5" fill="#7cbfee"/>
<text x="514.20" y="503.80" font-size="5.9" font-family="DejaVu Sans, Liberation Sans, sans-serif" text-anchor="start" fill="#000">Arteriole specific</text>
<circle cx="504.2" cy="513.7" r="2.5" fill="#666"/>
<text x="514.20" y="515.50" font-size="5.9" font-family="DejaVu Sans, Liberation Sans, sans-serif" text-anchor="start" fill="#000">Overlap</text>
<text x="498.50" y="529.60" font-size="7.5" font-family="DejaVu Sans, Liberation Sans, sans-serif" text-anchor="start" fill="#000">Enhancer SNP–</text>
<text x="498.50" y="537.60" font-size="7.5" font-family="DejaVu Sans, Liberation Sans, sans-serif" text-anchor="start" fill="#000">gene promoter</text>
<text x="498.50" y="545.60" font-size="7.5" font-family="DejaVu Sans, Liberation Sans, sans-serif" text-anchor="start" fill="#000">interaction</text>
<circle cx="504.2" cy="557.2" r="2.7" fill="#000"/>
<text x="515.00" y="559.00" font-size="5.9" font-family="DejaVu Sans, Liberation Sans, sans-serif" text-anchor="start" fill="#000">No</text>
<circle cx="504.2" cy="568.9" r="2.6" fill="#fff" stroke="#f0644f" stroke-width="1.0"/>
<text x="515.00" y="570.70" font-size="5.9" font-family="DejaVu Sans, Liberation Sans, sans-serif" text-anchor="start" fill="#000">Yes</text>
<text x="263.10" y="650.90" font-size="9.08" font-family="DejaVu Sans, Liberation Sans, sans-serif" text-anchor="start" fill="#000">Fibroblast enriched genes</text>
<circle cx="274.66" cy="693.54" r="1.6" fill="#c6c6c6"/>
<circle cx="275.52" cy="698.33" r="1.6" fill="#c6c6c6"/>
<circle cx="276.37" cy="702.16" r="1.6" fill="#c6c6c6"/>
<circle cx="277.23" cy="704.32" r="1.6" fill="#c6c6c6"/>
<circle cx="278.09" cy="705.99" r="1.6" fill="#c6c6c6"/>
<circle cx="278.95" cy="707.55" r="1.6" fill="#c6c6c6"/>
<circle cx="279.81" cy="708.86" r="1.6" fill="#c6c6c6"/>
<circle cx="280.66" cy="710.24" r="1.6" fill="#c6c6c6"/>
<polyline points="280.7,710.2 282.4,712.5 284.1,714.8 285.8,717.4 287.5,719.7 289.2,721.7 291.0,723.5 292.7,725.1 294.4,726.6 296.1,728.0 297.8,729.3 299.5,730.5 301.3,731.7 303.0,732.8 304.7,733.8 306.4,734.7 308.1,735.7 309.8,736.6 311.6,737.5 313.3,738.3 315.0,739.1 316.7,739.9 318.4,740.6 320.1,741.3 321.8,742.0 323.6,742.6 325.3,743.3 327.0,743.9 328.7,744.5 330.4,745.0 332.1,745.8 333.9,746.5 335.6,747.2 337.3,747.8 339.0,748.5 340.7,749.1 342.4,749.8 344.2,750.4 345.9,751.0 347.6,751.4 349.3,751.8 351.0,752.1 352.7,752.4 354.5,752.7 356.2,753.0 357.9,753.3 359.6,753.6 361.3,753.9 363.0,754.2 364.7,754.4 366.5,754.7 368.2,755.0 369.9,755.4 371.6,755.7 373.3,756.0 375.0,756.4 376.8,756.7 378.5,757.0 380.2,757.3 381.9,757.6 383.6,757.7 385.3,757.9 387.1,758.0 388.8,758.2 390.5,758.3 392.2,758.5 393.9,758.6 395.6,758.8 397.4,759.1 399.1,759.4 400.8,759.7 402.5,760.0 404.2,760.2 405.9,760.5 407.6,760.8 409.4,761.1 411.1,761.3 412.8,761.4 414.5,761.5 416.2,761.6 417.9,761.7 419.7,761.8 421.4,761.9 423.1,762.0 424.8,762.1 426.5,762.2 428.2,762.3 430.0,762.4 431.7,762.5 433.4,762.6 435.1,762.8 436.8,762.9 438.5,763.0 440.3,763.1 442.0,763.2 443.7,763.4 445.4,763.5 447.1,763.6 448.8,763.7 450.5,763.8 452.3,764.1 454.0,764.3 455.7,764.6 457.4,764.8 459.1,765.0 460.8,765.3 462.6,765.5 464.3,765.8 466.0,766.0 467.7,766.2 469.4,766.5 471.1,766.8 472.9,767.2 474.6,767.6 476.3,768.0 478.0,768.4 479.7,768.8 481.4,769.2 483.2,769.6 484.9,769.8 486.6,770.0 488.3,770.2 490.0,770.8 491.7,771.3 493.4,771.9 495.2,772.5 496.9,773.0 498.6,773.9 500.3,775.1 501.2,775.7" fill="none" stroke="#c6c6c6" stroke-width="2.8" stroke-linecap="round" stroke-linejoin="round"/>
<circle cx="502.6" cy="781.0" r="1.5" fill="#c6c6c6"/>
<line x1="305.70" y1="668.00" x2="305.70" y2="731.80" stroke="#5a5a5a" stroke-width="0.6"/>
<line x1="336.70" y1="683.90" x2="366.40" y2="752.20" stroke="#5a5a5a" stroke-width="0.6"/>
<line x1="360.30" y1="699.50" x2="380.10" y2="755.30" stroke="#5a5a5a" stroke-width="0.6"/>
<line x1="284.60" y1="715.80" x2="306.10" y2="740.90" stroke="#5a5a5a" stroke-width="0.6"/>
<line x1="315.30" y1="755.90" x2="329.60" y2="746.10" stroke="#5a5a5a" stroke-width="0.6"/>
<line x1="377.60" y1="766.10" x2="385.80" y2="759.30" stroke="#5a5a5a" stroke-width="0.6"/>
<line x1="347.00" y1="780.80" x2="371.50" y2="756.30" stroke="#5a5a5a" stroke-width="0.6"/>
<line x1="418.80" y1="683.90" x2="395.30" y2="756.30" stroke="#5a5a5a" stroke-width="0.6"/>
<line x1="447.40" y1="699.00" x2="416.80" y2="759.30" stroke="#5a5a5a" stroke-width="0.6"/>
<line x1="426.00" y1="780.80" x2="412.70" y2="763.40" stroke="#5a5a5a" stroke-width="0.6"/>
<circle cx="283.58" cy="713.89" r="2.95" fill="#5a5a5a" stroke="#f0644f" stroke-width="0.85"/>
<circle cx="305.55" cy="734.25" r="2.55" fill="#5a5a5a"/>
<circle cx="330.43" cy="745.03" r="2.55" fill="#5a5a5a"/>
<circle cx="367.32" cy="754.85" r="2.95" fill="#5a5a5a" stroke="#f0644f" stroke-width="0.85"/>
<circle cx="373.33" cy="756.05" r="2.95" fill="#5a5a5a" stroke="#f0644f" stroke-width="0.85"/>
<circle cx="381.05" cy="757.48" r="2.55" fill="#5a5a5a"/>
<circle cx="387.91" cy="758.10" r="2.55" fill="#5a5a5a"/>
<circle cx="394.78" cy="758.68" r="2.55" fill="#5a5a5a"/>
<circle cx="411.68" cy="761.35" r="2.55" fill="#5a5a5a"/>
<circle cx="414.51" cy="761.51" r="2.95" fill="#5a5a5a" stroke="#f0644f" stroke-width="0.85"/>
<circle cx="418.80" cy="761.75" r="2.95" fill="#5a5a5a" stroke="#f0644f" stroke-width="0.85"/>
<circle cx="427.38" cy="762.20" r="2.55" fill="#5a5a5a"/>
<circle cx="450.55" cy="763.81" r="2.95" fill="#5a5a5a" stroke="#f0644f" stroke-width="0.85"/>
<circle cx="470.28" cy="766.58" r="2.95" fill="#5a5a5a" stroke="#f0644f" stroke-width="0.85"/>
<circle cx="481.01" cy="769.11" r="2.55" fill="#5a5a5a"/>
<circle cx="483.15" cy="769.60" r="2.95" fill="#5a5a5a" stroke="#f0644f" stroke-width="0.85"/>
<circle cx="488.30" cy="770.18" r="2.55" fill="#5a5a5a"/>
<circle cx="497.74" cy="773.29" r="2.55" fill="#5a5a5a"/>
<text x="268.90" y="666.80" font-size="7.8" font-family="DejaVu Sans, Liberation Sans, sans-serif" text-anchor="start" fill="#111">rs11256837-CELF2</text>
<text x="295.90" y="682.60" font-size="7.8" font-family="DejaVu Sans, Liberation Sans, sans-serif" text-anchor="start" fill="#111">rs11725926-PDGFRA</text>
<text x="387.60" y="682.60" font-size="7.8" font-family="DejaVu Sans, Liberation Sans, sans-serif" text-anchor="start" fill="#111">rs6025-SLC19A2</text>
<text x="321.00" y="697.90" font-size="7.8" font-family="DejaVu Sans, Liberation Sans, sans-serif" text-anchor="start" fill="#111">rs11543651-HDAC9</text>
<text x="408.60" y="697.90" font-size="7.8" font-family="DejaVu Sans, Liberation Sans, sans-serif" text-anchor="start" fill="#111">rs2274089-CARMIL1</text>
<text x="268.90" y="745.60" font-size="7.8" font-family="DejaVu Sans, Liberation Sans, sans-serif" text-anchor="start" fill="#111">rs2251636-SEMA4A</text>
<text x="268.90" y="761.40" font-size="7.8" font-family="DejaVu Sans, Liberation Sans, sans-serif" text-anchor="start" fill="#111">rs1815614-SPSB1</text>
<text x="340.40" y="771.00" font-size="7.8" font-family="DejaVu Sans, Liberation Sans, sans-serif" text-anchor="start" fill="#111">rs1018148-FBN1</text>
<text x="304.00" y="786.50" font-size="7.8" font-family="DejaVu Sans, Liberation Sans, sans-serif" text-anchor="start" fill="#111">rs150194832-FHL2</text>
<text x="389.20" y="786.50" font-size="7.8" font-family="DejaVu Sans, Liberation Sans, sans-serif" text-anchor="start" fill="#111">rs7623193-SH3BP5</text>
<line x1="263.60" y1="656.50" x2="263.60" y2="791.80" stroke="#111" stroke-width="0.8"/>
<line x1="263.20" y1="791.40" x2="513.90" y2="791.40" stroke="#111" stroke-width="0.8"/>
<line x1="261.20" y1="773.05" x2="263.60" y2="773.05" stroke="#222" stroke-width="0.6"/>
<text x="259.60" y="775.15" font-size="5.9" font-family="DejaVu Sans, Liberation Sans, sans-serif" text-anchor="end" fill="#333">1</text>
<line x1="261.20" y1="749.10" x2="263.60" y2="749.10" stroke="#222" stroke-width="0.6"/>
<text x="259.60" y="751.20" font-size="5.9" font-family="DejaVu Sans, Liberation Sans, sans-serif" text-anchor="end" fill="#333">2</text>
<line x1="261.20" y1="725.15" x2="263.60" y2="725.15" stroke="#222" stroke-width="0.6"/>
<text x="259.60" y="727.25" font-size="5.9" font-family="DejaVu Sans, Liberation Sans, sans-serif" text-anchor="end" fill="#333">3</text>
<line x1="261.20" y1="701.20" x2="263.60" y2="701.20" stroke="#222" stroke-width="0.6"/>
<text x="259.60" y="703.30" font-size="5.9" font-family="DejaVu Sans, Liberation Sans, sans-serif" text-anchor="end" fill="#333">4</text>
<line x1="261.20" y1="677.25" x2="263.60" y2="677.25" stroke="#222" stroke-width="0.6"/>
<text x="259.60" y="679.35" font-size="5.9" font-family="DejaVu Sans, Liberation Sans, sans-serif" text-anchor="end" fill="#333">5</text>
<line x1="273.80" y1="791.40" x2="273.80" y2="793.80" stroke="#222" stroke-width="0.6"/>
<text x="273.80" y="799.20" font-size="5.9" font-family="DejaVu Sans, Liberation Sans, sans-serif" text-anchor="middle" fill="#333">0</text>
<line x1="359.60" y1="791.40" x2="359.60" y2="793.80" stroke="#222" stroke-width="0.6"/>
<text x="359.60" y="799.20" font-size="5.9" font-family="DejaVu Sans, Liberation Sans, sans-serif" text-anchor="middle" fill="#333">100</text>
<line x1="445.40" y1="791.40" x2="445.40" y2="793.80" stroke="#222" stroke-width="0.6"/>
<text x="445.40" y="799.20" font-size="5.9" font-family="DejaVu Sans, Liberation Sans, sans-serif" text-anchor="middle" fill="#333">200</text>
<text x="388.40" y="807.80" font-size="7.2" font-family="DejaVu Sans, Liberation Sans, sans-serif" text-anchor="middle" fill="#111">Rank</text>
<text x="243.70" y="724.00" font-size="7.45" font-family="DejaVu Sans, Liberation Sans, sans-serif" text-anchor="middle" fill="#111" transform="rotate(-90 243.70 724.00)">Log2 fold-change</text>
<text x="251.20" y="724.00" font-size="7.45" font-family="DejaVu Sans, Liberation Sans, sans-serif" text-anchor="middle" fill="#111" transform="rotate(-90 251.20 724.00)">(compared to other cells)</text>
<text transform="translate(229.67 644.86) scale(1.056 1.073)" x="0" y="0" font-size="20" font-family="Liberation Sans, DejaVu Sans, sans-serif" font-weight="bold" fill="#000" stroke="#000" stroke-width="0.08" stroke-linejoin="miter" vector-effect="non-scaling-stroke">I</text>
<defs><linearGradient id="cb" x1="0" y1="0" x2="0" y2="1"><stop offset="0" stop-color="#1a0cff"/><stop offset="0.5" stop-color="#887cea"/><stop offset="1" stop-color="#d3d3d3"/></linearGradient><linearGradient id="tl" x1="0" y1="0" x2="1" y2="0"><stop offset="0" stop-color="#9183ea"/><stop offset="0.45" stop-color="#5a4bf0"/><stop offset="1" stop-color="#2414fa"/></linearGradient></defs>
<text x="614.80" y="494.00" font-size="8.9" font-family="DejaVu Sans, Liberation Sans, sans-serif" text-anchor="middle" fill="#000" font-weight="bold">ERG</text>
<rect x="585.6" y="505.0" width="13.8" height="7.0" rx="3.4" fill="url(#tl)" transform="rotate(-50 592.5 508.5)"/>
<ellipse cx="636.6" cy="524.2" rx="5.4" ry="5.6" fill="#d2d2d2"/>
<circle cx="638.8" cy="520.4" r="3.6" fill="#d2d2d2"/>
<ellipse cx="630.0" cy="523.2" rx="3.6" ry="2.3" fill="#d2d2d2"/>
<circle cx="636.0" cy="528.0" r="3.0" fill="#d2d2d2"/>
<ellipse cx="610.0" cy="528.5" rx="2.0" ry="1.6" fill="#4a3af2" transform="rotate(25 610.0 528.5)"/>
<circle cx="618.7" cy="541.0" r="1.2" fill="#d2d2d2"/>
<ellipse cx="618.3" cy="543.8" rx="2.7" ry="1.9" fill="#5848ee" transform="rotate(25 618.3 543.8)"/>
<circle cx="627.8" cy="533.3" r="1.2" fill="#7a6aea"/>
<circle cx="632.0" cy="521.9" r="1.1" fill="#7a6aea"/>
<circle cx="636.9" cy="522.5" r="1.1" fill="#7a6aea"/>
<circle cx="639.0" cy="517.9" r="1.1" fill="#4a3af2"/>
<circle cx="640.5" cy="520.1" r="1.1" fill="#4a3af2"/>
<circle cx="639.9" cy="526.1" r="1.1" fill="#4a3af2"/>
<circle cx="637.8" cy="529.5" r="1.1" fill="#4a3af2"/>
<circle cx="637.5" cy="520.8" r="1.1" fill="#7a6aea"/>
<line x1="583.30" y1="499.80" x2="583.30" y2="550.70" stroke="#111" stroke-width="0.8"/>
<line x1="582.90" y1="550.30" x2="646.40" y2="550.30" stroke="#111" stroke-width="0.8"/>
<rect x="654.10" y="503.60" width="8.80" height="43.30" fill="url(#cb)"/>
<text x="666.60" y="509.90" font-size="6.4" font-family="DejaVu Sans, Liberation Sans, sans-serif" text-anchor="start" fill="#000">4</text>
<text x="666.60" y="519.90" font-size="6.4" font-family="DejaVu Sans, Liberation Sans, sans-serif" text-anchor="start" fill="#000">3</text>
<text x="666.60" y="529.80" font-size="6.4" font-family="DejaVu Sans, Liberation Sans, sans-serif" text-anchor="start" fill="#000">2</text>
<text x="666.60" y="539.40" font-size="6.4" font-family="DejaVu Sans, Liberation Sans, sans-serif" text-anchor="start" fill="#000">1</text>
<text x="666.60" y="549.20" font-size="6.4" font-family="DejaVu Sans, Liberation Sans, sans-serif" text-anchor="start" fill="#000">0</text>
<text x="614.80" y="570.20" font-size="8.9" font-family="DejaVu Sans, Liberation Sans, sans-serif" text-anchor="middle" fill="#000" font-weight="bold">FBLN5</text>
<rect x="585.6" y="581.2" width="13.8" height="7.0" rx="3.4" fill="url(#tl)" transform="rotate(-50 592.5 584.7)"/>
<ellipse cx="636.6" cy="600.4" rx="5.4" ry="5.6" fill="#d2d2d2"/>
<circle cx="638.8" cy="596.6" r="3.6" fill="#d2d2d2"/>
<ellipse cx="630.0" cy="599.4" rx="3.6" ry="2.3" fill="#d2d2d2"/>
<circle cx="636.0" cy="604.2" r="3.0" fill="#d2d2d2"/>
<ellipse cx="610.2" cy="604.4" rx="2.1" ry="1.5" fill="#7a6aea" transform="rotate(25 610.2 604.4)"/>
<circle cx="618.7" cy="617.0" r="1.2" fill="#d2d2d2"/>
<ellipse cx="618.2" cy="619.9" rx="3.0" ry="2.2" fill="#2a1af8" transform="rotate(15 618.2 619.9)"/>
<circle cx="627.8" cy="609.5" r="1.3" fill="#d2d2d2"/>
<circle cx="627.3" cy="599.0" r="1.1" fill="#4a3af2"/>
<line x1="583.30" y1="576.00" x2="583.30" y2="626.90" stroke="#111" stroke-width="0.8"/>
<line x1="582.90" y1="626.50" x2="646.40" y2="626.50" stroke="#111" stroke-width="0.8"/>
<rect x="654.10" y="579.70" width="8.80" height="43.30" fill="url(#cb)"/>
<text x="666.60" y="592.00" font-size="6.4" font-family="DejaVu Sans, Liberation Sans, sans-serif" text-anchor="start" fill="#000">3</text>
<text x="666.60" y="603.20" font-size="6.4" font-family="DejaVu Sans, Liberation Sans, sans-serif" text-anchor="start" fill="#000">2</text>
<text x="666.60" y="614.40" font-size="6.4" font-family="DejaVu Sans, Liberation Sans, sans-serif" text-anchor="start" fill="#000">1</text>
<text x="666.60" y="625.50" font-size="6.4" font-family="DejaVu Sans, Liberation Sans, sans-serif" text-anchor="start" fill="#000">0</text>
<text x="614.80" y="646.20" font-size="8.9" font-family="DejaVu Sans, Liberation Sans, sans-serif" text-anchor="middle" fill="#000" font-weight="bold">SEMA4A</text>
<rect x="585.6" y="657.6" width="13.4" height="6.6" rx="3.2" fill="#d2d2d2" transform="rotate(-50 592.3 660.9)"/>
<ellipse cx="636.6" cy="676.4" rx="5.4" ry="5.6" fill="#d2d2d2"/>
<circle cx="638.8" cy="672.6" r="3.6" fill="#d2d2d2"/>
<ellipse cx="630.0" cy="675.4" rx="3.6" ry="2.3" fill="#d2d2d2"/>
<circle cx="636.0" cy="680.2" r="3.0" fill="#d2d2d2"/>
<circle cx="589.3" cy="662.4" r="1.0" fill="#7a6aea"/>
<circle cx="592.3" cy="658.0" r="1.0" fill="#7a6aea"/>
<circle cx="593.5" cy="654.8" r="1.0" fill="#4a3af2"/>
<circle cx="596.5" cy="653.8" r="1.0" fill="#4a3af2"/>
<circle cx="593.3" cy="661.0" r="1.0" fill="#7a6aea"/>
<circle cx="591.6" cy="656.6" r="1.0" fill="#7a6aea"/>
<ellipse cx="610.3" cy="680.9" rx="2.0" ry="1.6" fill="#5f50ee" transform="rotate(20 610.3 680.9)"/>
<circle cx="618.2" cy="693.0" r="1.2" fill="#6a5aec"/>
<ellipse cx="618.3" cy="696.2" rx="3.4" ry="2.6" fill="#2a1af8" transform="rotate(15 618.3 696.2)"/>
<circle cx="627.8" cy="685.7" r="1.3" fill="#4a3af2"/>
<circle cx="627.8" cy="674.9" r="1.0" fill="#7a6aea"/>
<circle cx="635.8" cy="677.5" r="1.0" fill="#4a3af2"/>
<circle cx="638.2" cy="675.5" r="1.0" fill="#4a3af2"/>
<circle cx="640.2" cy="673.9" r="1.0" fill="#4a3af2"/>
<circle cx="642.1" cy="678.3" r="1.0" fill="#4a3af2"/>
<circle cx="638.8" cy="670.9" r="1.0" fill="#7a6aea"/>
<line x1="583.30" y1="652.00" x2="583.30" y2="702.90" stroke="#111" stroke-width="0.8"/>
<line x1="582.90" y1="702.50" x2="646.40" y2="702.50" stroke="#111" stroke-width="0.8"/>
<rect x="654.10" y="655.90" width="8.80" height="42.90" fill="url(#cb)"/>
<text x="666.60" y="663.20" font-size="6.4" font-family="DejaVu Sans, Liberation Sans, sans-serif" text-anchor="start" fill="#000">4</text>
<text x="666.60" y="672.80" font-size="6.4" font-family="DejaVu Sans, Liberation Sans, sans-serif" text-anchor="start" fill="#000">3</text>
<text x="666.60" y="682.30" font-size="6.4" font-family="DejaVu Sans, Liberation Sans, sans-serif" text-anchor="start" fill="#000">2</text>
<text x="666.60" y="691.70" font-size="6.4" font-family="DejaVu Sans, Liberation Sans, sans-serif" text-anchor="start" fill="#000">1</text>
<text x="666.60" y="701.50" font-size="6.4" font-family="DejaVu Sans, Liberation Sans, sans-serif" text-anchor="start" fill="#000">0</text>
<text x="614.80" y="722.40" font-size="8.9" font-family="DejaVu Sans, Liberation Sans, sans-serif" text-anchor="middle" fill="#000" font-weight="bold">PDGFRA</text>
<rect x="585.6" y="733.8" width="13.4" height="6.6" rx="3.2" fill="#d2d2d2" transform="rotate(-50 592.3 737.1)"/>
<ellipse cx="636.6" cy="752.6" rx="6.048000000000001" ry="6.272" fill="#d2d2d2"/>
<circle cx="638.8" cy="748.8" r="4.032000000000001" fill="#d2d2d2"/>
<ellipse cx="630.0" cy="751.6" rx="3.6" ry="2.3" fill="#d2d2d2"/>
<circle cx="636.0" cy="756.4" r="3.3600000000000003" fill="#d2d2d2"/>
<circle cx="595.9" cy="732.4" r="1.0" fill="#4a3af2"/>
<circle cx="592.9" cy="738.8" r="1.0" fill="#7a6aea"/>
<circle cx="592.9" cy="740.8" r="1.0" fill="#7a6aea"/>
<circle cx="609.9" cy="756.6" r="1.7" fill="#d2d2d2"/>
<circle cx="610.4" cy="757.6" r="1.1" fill="#4a3af2"/>
<circle cx="618.4" cy="769.4" r="1.3" fill="#d2d2d2"/>
<ellipse cx="618.2" cy="772.2" rx="3.2" ry="2.3" fill="#2a1af8" transform="rotate(10 618.2 772.2)"/>
<circle cx="627.8" cy="762.1" r="1.3" fill="#d2d2d2"/>
<circle cx="627.4" cy="751.1" r="1.0" fill="#4a3af2"/>
<circle cx="629.8" cy="751.7" r="1.0" fill="#4a3af2"/>
<line x1="583.30" y1="728.20" x2="583.30" y2="779.10" stroke="#111" stroke-width="0.8"/>
<line x1="582.90" y1="778.70" x2="646.40" y2="778.70" stroke="#111" stroke-width="0.8"/>
<rect x="654.10" y="732.10" width="8.80" height="42.40" fill="url(#cb)"/>
<text x="666.60" y="740.30" font-size="6.4" font-family="DejaVu Sans, Liberation Sans, sans-serif" text-anchor="start" fill="#000">3</text>
<text x="666.60" y="752.90" font-size="6.4" font-family="DejaVu Sans, Liberation Sans, sans-serif" text-anchor="start" fill="#000">2</text>
<text x="666.60" y="765.50" font-size="6.4" font-family="DejaVu Sans, Liberation Sans, sans-serif" text-anchor="start" fill="#000">1</text>
<text x="666.60" y="777.80" font-size="6.4" font-family="DejaVu Sans, Liberation Sans, sans-serif" text-anchor="start" fill="#000">0</text>
<line x1="578.40" y1="784.10" x2="578.40" y2="762.50" stroke="#111" stroke-width="0.7"/>
<path d="M576.8 763.6 L578.4 759.8 L580.0 763.6 Z" fill="#111"/>
<line x1="578.40" y1="784.10" x2="599.80" y2="784.10" stroke="#111" stroke-width="0.7"/>
<path d="M598.6 782.5 L602.4 784.1 L598.6 785.7 Z" fill="#111"/>
<text x="579.00" y="790.60" font-size="5.0" font-family="DejaVu Sans, Liberation Sans, sans-serif" text-anchor="start" fill="#444">UMAP 1</text>
<text x="576.60" y="774.20" font-size="5.0" font-family="DejaVu Sans, Liberation Sans, sans-serif" text-anchor="middle" fill="#555" transform="rotate(-90 576.60 774.20)">UMAP 2</text>
<text transform="translate(571.35 487.15) scale(0.584 1.011)" x="0" y="0" font-size="20" font-family="Liberation Sans, DejaVu Sans, sans-serif" font-weight="bold" fill="#000" stroke="#000" stroke-width="1.1" stroke-linejoin="miter" vector-effect="non-scaling-stroke">J</text>
</svg>
</body></html>
